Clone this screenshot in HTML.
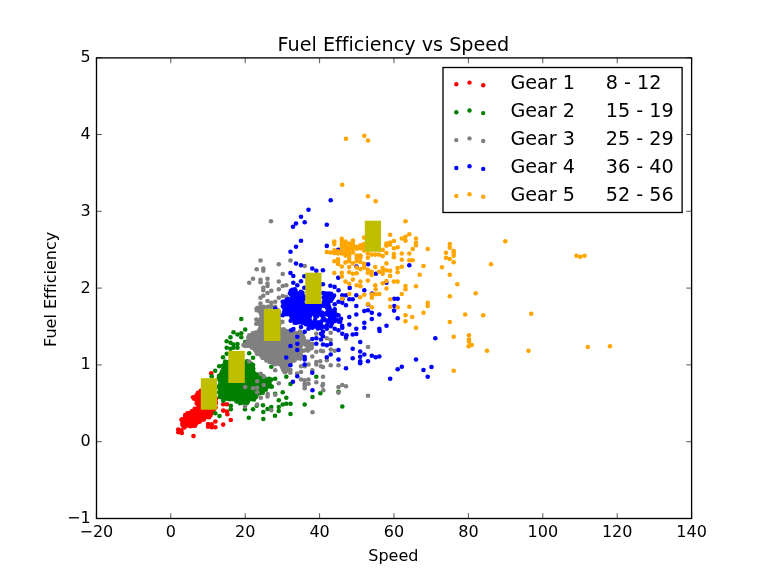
<!DOCTYPE html>
<html lang="en"><head><meta charset="utf-8"><title>Fuel Efficiency vs Speed</title>
<style>
html,body{margin:0;padding:0;background:#fff;}
body{width:768px;height:576px;overflow:hidden;}
svg{display:block;}
text{font-family:"DejaVu Sans", "Liberation Sans", sans-serif;fill:#000;font-variant-ligatures:none;}
.t16{font-size:16px;}
.t19{font-size:19.2px;}
</style></head><body>
<svg width="768" height="576" viewBox="0 0 768 576">
<rect x="0" y="0" width="768" height="576" fill="#fff"/>

<clipPath id="ax"><rect x="96.5" y="57.9" width="595.1" height="460.6"/></clipPath>
<g clip-path="url(#ax)">
<g fill="#ff0000">
<circle cx="178.2" cy="429.5" r="2.3"/><circle cx="181.3" cy="430.4" r="2.3"/><circle cx="178.4" cy="432.2" r="2.3"/><circle cx="181.8" cy="433.0" r="2.3"/><circle cx="193.5" cy="436.1" r="2.3"/><circle cx="181.5" cy="419.8" r="2.3"/><circle cx="185.2" cy="415.1" r="2.3"/><circle cx="188.8" cy="413.2" r="2.3"/><circle cx="215.4" cy="421.5" r="2.3"/><circle cx="208.1" cy="424.1" r="2.3"/><circle cx="208.1" cy="426.7" r="2.3"/><circle cx="211.8" cy="427.2" r="2.3"/><circle cx="215.4" cy="427.2" r="2.3"/><circle cx="211.8" cy="424.3" r="2.3"/><circle cx="223.2" cy="424.6" r="2.3"/><circle cx="230.8" cy="420.0" r="2.3"/><circle cx="223.2" cy="410.6" r="2.3"/><circle cx="226.9" cy="411.6" r="2.3"/><circle cx="227.4" cy="414.2" r="2.3"/><circle cx="223.2" cy="404.3" r="2.3"/><circle cx="226.9" cy="404.3" r="2.3"/><circle cx="211.2" cy="373.3" r="2.3"/><circle cx="200.7" cy="390.7" r="2.3"/><circle cx="198.0" cy="392.7" r="2.3"/><circle cx="199.9" cy="392.7" r="2.3"/><circle cx="202.5" cy="392.1" r="2.3"/><circle cx="205.1" cy="392.8" r="2.3"/><circle cx="196.6" cy="395.1" r="2.3"/><circle cx="198.7" cy="394.6" r="2.3"/><circle cx="200.7" cy="394.2" r="2.3"/><circle cx="203.3" cy="394.4" r="2.3"/><circle cx="206.2" cy="394.3" r="2.3"/><circle cx="193.0" cy="397.2" r="2.3"/><circle cx="195.5" cy="397.0" r="2.3"/><circle cx="197.8" cy="396.9" r="2.3"/><circle cx="199.6" cy="396.7" r="2.3"/><circle cx="202.2" cy="396.2" r="2.3"/><circle cx="204.2" cy="396.5" r="2.3"/><circle cx="206.9" cy="396.9" r="2.3"/><circle cx="194.2" cy="398.7" r="2.3"/><circle cx="196.0" cy="399.1" r="2.3"/><circle cx="198.5" cy="399.1" r="2.3"/><circle cx="201.6" cy="398.7" r="2.3"/><circle cx="203.4" cy="399.2" r="2.3"/><circle cx="206.1" cy="398.4" r="2.3"/><circle cx="207.9" cy="398.4" r="2.3"/><circle cx="211.1" cy="399.1" r="2.3"/><circle cx="212.7" cy="399.1" r="2.3"/><circle cx="216.0" cy="398.9" r="2.3"/><circle cx="197.2" cy="400.9" r="2.3"/><circle cx="199.7" cy="400.8" r="2.3"/><circle cx="201.9" cy="401.3" r="2.3"/><circle cx="204.6" cy="400.8" r="2.3"/><circle cx="207.2" cy="401.3" r="2.3"/><circle cx="209.4" cy="401.3" r="2.3"/><circle cx="211.9" cy="400.9" r="2.3"/><circle cx="214.3" cy="400.4" r="2.3"/><circle cx="196.6" cy="402.9" r="2.3"/><circle cx="198.8" cy="403.2" r="2.3"/><circle cx="201.5" cy="402.9" r="2.3"/><circle cx="203.6" cy="402.9" r="2.3"/><circle cx="205.9" cy="403.1" r="2.3"/><circle cx="208.3" cy="403.0" r="2.3"/><circle cx="210.7" cy="403.4" r="2.3"/><circle cx="213.3" cy="403.3" r="2.3"/><circle cx="215.9" cy="402.7" r="2.3"/><circle cx="197.7" cy="404.6" r="2.3"/><circle cx="200.3" cy="405.5" r="2.3"/><circle cx="202.0" cy="405.5" r="2.3"/><circle cx="204.6" cy="405.0" r="2.3"/><circle cx="207.6" cy="405.3" r="2.3"/><circle cx="209.2" cy="404.9" r="2.3"/><circle cx="211.9" cy="404.8" r="2.3"/><circle cx="214.0" cy="404.8" r="2.3"/><circle cx="198.6" cy="407.5" r="2.3"/><circle cx="201.4" cy="406.8" r="2.3"/><circle cx="203.1" cy="407.5" r="2.3"/><circle cx="206.0" cy="407.3" r="2.3"/><circle cx="207.9" cy="406.6" r="2.3"/><circle cx="210.9" cy="407.0" r="2.3"/><circle cx="212.7" cy="407.5" r="2.3"/><circle cx="215.6" cy="407.4" r="2.3"/><circle cx="194.7" cy="408.8" r="2.3"/><circle cx="197.1" cy="408.9" r="2.3"/><circle cx="199.7" cy="409.0" r="2.3"/><circle cx="202.6" cy="409.0" r="2.3"/><circle cx="204.7" cy="408.8" r="2.3"/><circle cx="206.9" cy="408.7" r="2.3"/><circle cx="209.3" cy="408.7" r="2.3"/><circle cx="212.1" cy="409.2" r="2.3"/><circle cx="214.0" cy="409.1" r="2.3"/><circle cx="191.7" cy="411.4" r="2.3"/><circle cx="193.8" cy="411.1" r="2.3"/><circle cx="195.9" cy="410.9" r="2.3"/><circle cx="198.3" cy="411.5" r="2.3"/><circle cx="200.9" cy="410.9" r="2.3"/><circle cx="203.1" cy="411.6" r="2.3"/><circle cx="206.3" cy="411.4" r="2.3"/><circle cx="208.1" cy="411.0" r="2.3"/><circle cx="210.5" cy="411.2" r="2.3"/><circle cx="212.8" cy="411.2" r="2.3"/><circle cx="187.4" cy="413.2" r="2.3"/><circle cx="190.3" cy="413.3" r="2.3"/><circle cx="192.4" cy="413.3" r="2.3"/><circle cx="194.6" cy="413.1" r="2.3"/><circle cx="197.1" cy="413.2" r="2.3"/><circle cx="199.4" cy="412.8" r="2.3"/><circle cx="202.1" cy="413.1" r="2.3"/><circle cx="204.8" cy="413.3" r="2.3"/><circle cx="207.4" cy="413.5" r="2.3"/><circle cx="209.7" cy="413.7" r="2.3"/><circle cx="211.8" cy="413.1" r="2.3"/><circle cx="186.3" cy="415.4" r="2.3"/><circle cx="189.1" cy="415.7" r="2.3"/><circle cx="191.8" cy="415.7" r="2.3"/><circle cx="194.0" cy="415.8" r="2.3"/><circle cx="196.5" cy="415.6" r="2.3"/><circle cx="198.4" cy="414.9" r="2.3"/><circle cx="200.7" cy="415.3" r="2.3"/><circle cx="203.1" cy="415.7" r="2.3"/><circle cx="206.0" cy="415.5" r="2.3"/><circle cx="208.4" cy="415.6" r="2.3"/><circle cx="210.7" cy="414.9" r="2.3"/><circle cx="185.1" cy="417.2" r="2.3"/><circle cx="188.1" cy="417.2" r="2.3"/><circle cx="190.5" cy="418.0" r="2.3"/><circle cx="192.7" cy="417.4" r="2.3"/><circle cx="195.1" cy="417.7" r="2.3"/><circle cx="197.8" cy="417.6" r="2.3"/><circle cx="200.0" cy="417.1" r="2.3"/><circle cx="201.9" cy="417.2" r="2.3"/><circle cx="204.9" cy="417.3" r="2.3"/><circle cx="207.2" cy="417.0" r="2.3"/><circle cx="209.1" cy="417.2" r="2.3"/><circle cx="182.3" cy="419.3" r="2.3"/><circle cx="184.8" cy="420.0" r="2.3"/><circle cx="186.2" cy="419.5" r="2.3"/><circle cx="189.4" cy="420.0" r="2.3"/><circle cx="191.4" cy="419.3" r="2.3"/><circle cx="193.6" cy="420.0" r="2.3"/><circle cx="196.0" cy="419.6" r="2.3"/><circle cx="198.3" cy="419.6" r="2.3"/><circle cx="201.6" cy="419.2" r="2.3"/><circle cx="203.8" cy="419.6" r="2.3"/><circle cx="182.9" cy="422.0" r="2.3"/><circle cx="185.0" cy="421.9" r="2.3"/><circle cx="188.2" cy="421.3" r="2.3"/><circle cx="190.7" cy="421.8" r="2.3"/><circle cx="193.1" cy="421.4" r="2.3"/><circle cx="195.0" cy="421.5" r="2.3"/><circle cx="198.0" cy="421.7" r="2.3"/><circle cx="199.8" cy="421.6" r="2.3"/><circle cx="182.3" cy="423.8" r="2.3"/><circle cx="184.5" cy="423.3" r="2.3"/><circle cx="186.9" cy="423.7" r="2.3"/><circle cx="189.4" cy="423.9" r="2.3"/><circle cx="191.3" cy="423.3" r="2.3"/><circle cx="194.3" cy="423.3" r="2.3"/><circle cx="196.3" cy="423.6" r="2.3"/><circle cx="182.8" cy="425.4" r="2.3"/><circle cx="185.3" cy="425.4" r="2.3"/><circle cx="187.6" cy="425.5" r="2.3"/><circle cx="190.4" cy="426.2" r="2.3"/><circle cx="192.9" cy="425.7" r="2.3"/><circle cx="195.0" cy="425.8" r="2.3"/><circle cx="184.4" cy="427.4" r="2.3"/>
</g>
<g fill="#008000">
<circle cx="241.3" cy="319.0" r="2.3"/><circle cx="245.2" cy="329.5" r="2.3"/><circle cx="233.5" cy="332.3" r="2.3"/><circle cx="237.5" cy="334.5" r="2.3"/><circle cx="241.3" cy="333.3" r="2.3"/><circle cx="230.5" cy="337.3" r="2.3"/><circle cx="241.3" cy="337.3" r="2.3"/><circle cx="226.7" cy="341.2" r="2.3"/><circle cx="230.5" cy="342.8" r="2.3"/><circle cx="233.5" cy="344.5" r="2.3"/><circle cx="237.5" cy="344.0" r="2.3"/><circle cx="245.2" cy="342.0" r="2.3"/><circle cx="226.7" cy="347.8" r="2.3"/><circle cx="230.5" cy="348.7" r="2.3"/><circle cx="233.5" cy="347.8" r="2.3"/><circle cx="237.5" cy="347.8" r="2.3"/><circle cx="226.7" cy="353.7" r="2.3"/><circle cx="223.0" cy="357.3" r="2.3"/><circle cx="219.2" cy="366.2" r="2.3"/><circle cx="215.2" cy="370.7" r="2.3"/><circle cx="211.7" cy="376.2" r="2.3"/><circle cx="249.2" cy="353.3" r="2.3"/><circle cx="253.0" cy="357.8" r="2.3"/><circle cx="253.0" cy="365.0" r="2.3"/><circle cx="253.0" cy="368.7" r="2.3"/><circle cx="249.2" cy="367.0" r="2.3"/><circle cx="249.2" cy="372.0" r="2.3"/><circle cx="253.0" cy="372.8" r="2.3"/><circle cx="257.2" cy="374.5" r="2.3"/><circle cx="260.8" cy="377.0" r="2.3"/><circle cx="271.3" cy="366.7" r="2.3"/><circle cx="271.3" cy="379.5" r="2.3"/><circle cx="275.2" cy="378.7" r="2.3"/><circle cx="290.5" cy="384.0" r="2.3"/><circle cx="286.3" cy="376.7" r="2.3"/><circle cx="282.7" cy="392.3" r="2.3"/><circle cx="275.2" cy="393.7" r="2.3"/><circle cx="286.3" cy="397.8" r="2.3"/><circle cx="278.8" cy="400.3" r="2.3"/><circle cx="290.5" cy="403.7" r="2.3"/><circle cx="286.3" cy="403.7" r="2.3"/><circle cx="282.7" cy="404.5" r="2.3"/><circle cx="263.0" cy="405.3" r="2.3"/><circle cx="271.3" cy="407.0" r="2.3"/><circle cx="278.8" cy="407.0" r="2.3"/><circle cx="304.7" cy="404.5" r="2.3"/><circle cx="312.5" cy="397.0" r="2.3"/><circle cx="320.3" cy="393.2" r="2.3"/><circle cx="278.7" cy="411.0" r="2.3"/><circle cx="275.0" cy="415.7" r="2.3"/><circle cx="290.5" cy="414.0" r="2.3"/><circle cx="267.5" cy="409.0" r="2.3"/><circle cx="263.3" cy="412.0" r="2.3"/><circle cx="263.3" cy="419.0" r="2.3"/><circle cx="248.8" cy="417.8" r="2.3"/><circle cx="230.8" cy="409.3" r="2.3"/><circle cx="245.0" cy="409.3" r="2.3"/><circle cx="253.0" cy="409.3" r="2.3"/><circle cx="215.3" cy="413.2" r="2.3"/><circle cx="219.5" cy="416.0" r="2.3"/><circle cx="230.8" cy="405.7" r="2.3"/><circle cx="256.7" cy="405.7" r="2.3"/><circle cx="223.3" cy="400.7" r="2.3"/><circle cx="268.3" cy="386.0" r="2.3"/><circle cx="271.7" cy="386.5" r="2.3"/><circle cx="265.8" cy="389.8" r="2.3"/><circle cx="316.3" cy="376.7" r="2.3"/><circle cx="342.3" cy="406.5" r="2.3"/><circle cx="338.5" cy="391.7" r="2.3"/><circle cx="225.2" cy="361.5" r="2.3"/><circle cx="228.4" cy="362.0" r="2.3"/><circle cx="230.6" cy="362.1" r="2.3"/><circle cx="233.2" cy="361.4" r="2.3"/><circle cx="234.9" cy="362.0" r="2.3"/><circle cx="240.2" cy="361.5" r="2.3"/><circle cx="242.3" cy="361.4" r="2.3"/><circle cx="247.0" cy="361.4" r="2.3"/><circle cx="224.9" cy="363.8" r="2.3"/><circle cx="226.6" cy="363.9" r="2.3"/><circle cx="229.0" cy="363.4" r="2.3"/><circle cx="231.1" cy="363.9" r="2.3"/><circle cx="234.4" cy="363.8" r="2.3"/><circle cx="236.8" cy="363.2" r="2.3"/><circle cx="238.5" cy="363.6" r="2.3"/><circle cx="241.7" cy="364.1" r="2.3"/><circle cx="243.5" cy="363.4" r="2.3"/><circle cx="245.9" cy="363.7" r="2.3"/><circle cx="248.8" cy="363.3" r="2.3"/><circle cx="251.1" cy="363.9" r="2.3"/><circle cx="222.9" cy="365.7" r="2.3"/><circle cx="225.7" cy="365.9" r="2.3"/><circle cx="228.2" cy="366.1" r="2.3"/><circle cx="230.6" cy="365.4" r="2.3"/><circle cx="233.1" cy="365.5" r="2.3"/><circle cx="235.3" cy="365.6" r="2.3"/><circle cx="237.8" cy="365.4" r="2.3"/><circle cx="239.7" cy="365.5" r="2.3"/><circle cx="242.1" cy="366.1" r="2.3"/><circle cx="244.9" cy="365.6" r="2.3"/><circle cx="247.1" cy="366.2" r="2.3"/><circle cx="249.6" cy="365.5" r="2.3"/><circle cx="252.3" cy="365.9" r="2.3"/><circle cx="224.0" cy="367.5" r="2.3"/><circle cx="226.6" cy="367.9" r="2.3"/><circle cx="229.4" cy="367.5" r="2.3"/><circle cx="231.1" cy="367.6" r="2.3"/><circle cx="234.2" cy="367.5" r="2.3"/><circle cx="236.2" cy="367.5" r="2.3"/><circle cx="239.1" cy="367.9" r="2.3"/><circle cx="240.8" cy="367.4" r="2.3"/><circle cx="243.5" cy="367.9" r="2.3"/><circle cx="246.1" cy="367.4" r="2.3"/><circle cx="248.1" cy="368.0" r="2.3"/><circle cx="250.7" cy="367.6" r="2.3"/><circle cx="253.0" cy="368.3" r="2.3"/><circle cx="222.8" cy="370.0" r="2.3"/><circle cx="225.5" cy="369.9" r="2.3"/><circle cx="227.6" cy="369.7" r="2.3"/><circle cx="230.4" cy="370.3" r="2.3"/><circle cx="232.4" cy="369.9" r="2.3"/><circle cx="235.5" cy="370.4" r="2.3"/><circle cx="237.3" cy="369.5" r="2.3"/><circle cx="240.4" cy="370.4" r="2.3"/><circle cx="242.4" cy="369.4" r="2.3"/><circle cx="245.2" cy="369.8" r="2.3"/><circle cx="247.6" cy="370.0" r="2.3"/><circle cx="249.9" cy="369.6" r="2.3"/><circle cx="252.3" cy="369.6" r="2.3"/><circle cx="221.9" cy="372.1" r="2.3"/><circle cx="224.3" cy="372.1" r="2.3"/><circle cx="226.7" cy="371.9" r="2.3"/><circle cx="228.7" cy="372.1" r="2.3"/><circle cx="231.6" cy="371.7" r="2.3"/><circle cx="234.3" cy="372.3" r="2.3"/><circle cx="236.4" cy="371.6" r="2.3"/><circle cx="238.8" cy="371.6" r="2.3"/><circle cx="240.8" cy="371.9" r="2.3"/><circle cx="243.2" cy="371.9" r="2.3"/><circle cx="246.0" cy="371.5" r="2.3"/><circle cx="248.5" cy="371.6" r="2.3"/><circle cx="251.0" cy="372.2" r="2.3"/><circle cx="253.2" cy="371.5" r="2.3"/><circle cx="221.2" cy="373.8" r="2.3"/><circle cx="223.5" cy="373.7" r="2.3"/><circle cx="225.6" cy="374.5" r="2.3"/><circle cx="227.7" cy="373.8" r="2.3"/><circle cx="230.4" cy="373.9" r="2.3"/><circle cx="232.3" cy="373.7" r="2.3"/><circle cx="234.9" cy="374.5" r="2.3"/><circle cx="237.8" cy="374.4" r="2.3"/><circle cx="239.7" cy="374.3" r="2.3"/><circle cx="242.0" cy="374.1" r="2.3"/><circle cx="244.9" cy="373.9" r="2.3"/><circle cx="247.6" cy="374.1" r="2.3"/><circle cx="249.7" cy="374.4" r="2.3"/><circle cx="251.6" cy="374.5" r="2.3"/><circle cx="254.5" cy="373.9" r="2.3"/><circle cx="219.1" cy="375.8" r="2.3"/><circle cx="222.1" cy="376.1" r="2.3"/><circle cx="224.4" cy="376.5" r="2.3"/><circle cx="226.4" cy="375.9" r="2.3"/><circle cx="229.4" cy="375.6" r="2.3"/><circle cx="231.1" cy="376.0" r="2.3"/><circle cx="233.6" cy="376.0" r="2.3"/><circle cx="236.1" cy="376.2" r="2.3"/><circle cx="238.9" cy="375.8" r="2.3"/><circle cx="241.3" cy="376.1" r="2.3"/><circle cx="243.2" cy="376.6" r="2.3"/><circle cx="245.7" cy="375.8" r="2.3"/><circle cx="248.0" cy="376.3" r="2.3"/><circle cx="251.2" cy="376.4" r="2.3"/><circle cx="253.1" cy="375.9" r="2.3"/><circle cx="255.1" cy="376.3" r="2.3"/><circle cx="258.1" cy="376.0" r="2.3"/><circle cx="260.5" cy="376.1" r="2.3"/><circle cx="263.2" cy="376.4" r="2.3"/><circle cx="218.8" cy="377.8" r="2.3"/><circle cx="220.5" cy="378.3" r="2.3"/><circle cx="223.2" cy="378.3" r="2.3"/><circle cx="225.9" cy="377.9" r="2.3"/><circle cx="227.8" cy="378.0" r="2.3"/><circle cx="229.9" cy="378.6" r="2.3"/><circle cx="233.1" cy="378.4" r="2.3"/><circle cx="234.7" cy="378.6" r="2.3"/><circle cx="237.8" cy="378.2" r="2.3"/><circle cx="240.2" cy="378.2" r="2.3"/><circle cx="242.1" cy="377.8" r="2.3"/><circle cx="244.5" cy="377.7" r="2.3"/><circle cx="247.0" cy="378.5" r="2.3"/><circle cx="249.8" cy="378.6" r="2.3"/><circle cx="252.2" cy="378.0" r="2.3"/><circle cx="254.5" cy="378.1" r="2.3"/><circle cx="257.1" cy="378.2" r="2.3"/><circle cx="259.0" cy="378.3" r="2.3"/><circle cx="262.1" cy="377.9" r="2.3"/><circle cx="264.4" cy="377.7" r="2.3"/><circle cx="269.0" cy="378.7" r="2.3"/><circle cx="219.7" cy="380.5" r="2.3"/><circle cx="222.2" cy="380.8" r="2.3"/><circle cx="224.4" cy="380.6" r="2.3"/><circle cx="227.0" cy="380.6" r="2.3"/><circle cx="229.1" cy="380.5" r="2.3"/><circle cx="231.7" cy="380.1" r="2.3"/><circle cx="233.7" cy="380.4" r="2.3"/><circle cx="236.0" cy="380.7" r="2.3"/><circle cx="238.4" cy="379.8" r="2.3"/><circle cx="240.8" cy="380.7" r="2.3"/><circle cx="243.4" cy="379.9" r="2.3"/><circle cx="245.5" cy="379.8" r="2.3"/><circle cx="248.6" cy="380.4" r="2.3"/><circle cx="251.0" cy="380.5" r="2.3"/><circle cx="252.8" cy="380.4" r="2.3"/><circle cx="255.5" cy="380.6" r="2.3"/><circle cx="258.3" cy="380.7" r="2.3"/><circle cx="260.0" cy="380.7" r="2.3"/><circle cx="263.2" cy="380.7" r="2.3"/><circle cx="264.8" cy="380.0" r="2.3"/><circle cx="267.2" cy="379.8" r="2.3"/><circle cx="270.3" cy="380.6" r="2.3"/><circle cx="221.1" cy="382.1" r="2.3"/><circle cx="223.0" cy="382.3" r="2.3"/><circle cx="225.1" cy="382.1" r="2.3"/><circle cx="227.8" cy="382.6" r="2.3"/><circle cx="230.3" cy="382.2" r="2.3"/><circle cx="233.3" cy="382.4" r="2.3"/><circle cx="235.6" cy="382.5" r="2.3"/><circle cx="237.1" cy="382.3" r="2.3"/><circle cx="239.9" cy="382.6" r="2.3"/><circle cx="242.2" cy="382.6" r="2.3"/><circle cx="244.8" cy="382.1" r="2.3"/><circle cx="247.6" cy="382.0" r="2.3"/><circle cx="249.9" cy="382.0" r="2.3"/><circle cx="251.5" cy="382.1" r="2.3"/><circle cx="254.7" cy="382.8" r="2.3"/><circle cx="256.3" cy="382.4" r="2.3"/><circle cx="259.2" cy="382.7" r="2.3"/><circle cx="261.3" cy="382.4" r="2.3"/><circle cx="263.8" cy="382.7" r="2.3"/><circle cx="266.2" cy="382.8" r="2.3"/><circle cx="268.6" cy="382.1" r="2.3"/><circle cx="219.8" cy="384.7" r="2.3"/><circle cx="222.1" cy="384.3" r="2.3"/><circle cx="224.3" cy="384.3" r="2.3"/><circle cx="227.2" cy="384.0" r="2.3"/><circle cx="229.6" cy="384.0" r="2.3"/><circle cx="231.3" cy="384.2" r="2.3"/><circle cx="234.4" cy="384.4" r="2.3"/><circle cx="236.3" cy="384.8" r="2.3"/><circle cx="238.5" cy="384.4" r="2.3"/><circle cx="241.2" cy="384.7" r="2.3"/><circle cx="243.9" cy="384.6" r="2.3"/><circle cx="245.8" cy="384.3" r="2.3"/><circle cx="248.1" cy="384.8" r="2.3"/><circle cx="251.0" cy="384.7" r="2.3"/><circle cx="252.9" cy="384.4" r="2.3"/><circle cx="255.9" cy="384.5" r="2.3"/><circle cx="257.6" cy="384.4" r="2.3"/><circle cx="260.8" cy="384.2" r="2.3"/><circle cx="262.5" cy="384.2" r="2.3"/><circle cx="265.4" cy="384.8" r="2.3"/><circle cx="267.3" cy="384.1" r="2.3"/><circle cx="269.7" cy="384.3" r="2.3"/><circle cx="218.9" cy="386.7" r="2.3"/><circle cx="220.4" cy="387.0" r="2.3"/><circle cx="222.8" cy="386.4" r="2.3"/><circle cx="226.1" cy="386.8" r="2.3"/><circle cx="228.2" cy="386.5" r="2.3"/><circle cx="230.1" cy="386.7" r="2.3"/><circle cx="232.4" cy="386.2" r="2.3"/><circle cx="235.1" cy="386.1" r="2.3"/><circle cx="237.5" cy="386.8" r="2.3"/><circle cx="240.2" cy="386.5" r="2.3"/><circle cx="242.5" cy="386.5" r="2.3"/><circle cx="244.4" cy="386.6" r="2.3"/><circle cx="247.1" cy="386.8" r="2.3"/><circle cx="250.0" cy="386.4" r="2.3"/><circle cx="252.1" cy="386.8" r="2.3"/><circle cx="254.3" cy="386.2" r="2.3"/><circle cx="257.0" cy="386.9" r="2.3"/><circle cx="259.5" cy="386.7" r="2.3"/><circle cx="262.0" cy="386.7" r="2.3"/><circle cx="264.1" cy="386.5" r="2.3"/><circle cx="266.2" cy="386.6" r="2.3"/><circle cx="268.4" cy="386.4" r="2.3"/><circle cx="271.5" cy="386.7" r="2.3"/><circle cx="219.7" cy="388.5" r="2.3"/><circle cx="222.2" cy="389.0" r="2.3"/><circle cx="224.1" cy="388.8" r="2.3"/><circle cx="227.1" cy="388.5" r="2.3"/><circle cx="229.2" cy="389.1" r="2.3"/><circle cx="231.1" cy="388.6" r="2.3"/><circle cx="233.7" cy="388.9" r="2.3"/><circle cx="236.8" cy="388.6" r="2.3"/><circle cx="238.4" cy="388.7" r="2.3"/><circle cx="241.2" cy="388.8" r="2.3"/><circle cx="243.6" cy="388.7" r="2.3"/><circle cx="246.3" cy="388.6" r="2.3"/><circle cx="248.3" cy="389.0" r="2.3"/><circle cx="250.5" cy="388.8" r="2.3"/><circle cx="253.1" cy="388.9" r="2.3"/><circle cx="255.2" cy="389.1" r="2.3"/><circle cx="257.9" cy="388.2" r="2.3"/><circle cx="260.2" cy="388.5" r="2.3"/><circle cx="262.3" cy="388.5" r="2.3"/><circle cx="220.4" cy="391.0" r="2.3"/><circle cx="223.5" cy="390.8" r="2.3"/><circle cx="225.6" cy="390.7" r="2.3"/><circle cx="227.7" cy="391.1" r="2.3"/><circle cx="230.3" cy="390.8" r="2.3"/><circle cx="233.1" cy="391.0" r="2.3"/><circle cx="235.2" cy="390.5" r="2.3"/><circle cx="237.6" cy="390.3" r="2.3"/><circle cx="240.3" cy="390.5" r="2.3"/><circle cx="242.8" cy="390.4" r="2.3"/><circle cx="244.7" cy="390.4" r="2.3"/><circle cx="247.1" cy="390.4" r="2.3"/><circle cx="249.1" cy="390.9" r="2.3"/><circle cx="251.8" cy="390.4" r="2.3"/><circle cx="254.2" cy="390.7" r="2.3"/><circle cx="256.7" cy="390.8" r="2.3"/><circle cx="259.4" cy="390.5" r="2.3"/><circle cx="262.0" cy="391.0" r="2.3"/><circle cx="219.2" cy="392.4" r="2.3"/><circle cx="221.7" cy="393.0" r="2.3"/><circle cx="224.2" cy="392.4" r="2.3"/><circle cx="227.2" cy="393.0" r="2.3"/><circle cx="228.9" cy="393.1" r="2.3"/><circle cx="231.7" cy="393.0" r="2.3"/><circle cx="234.2" cy="393.1" r="2.3"/><circle cx="236.7" cy="393.1" r="2.3"/><circle cx="238.5" cy="392.9" r="2.3"/><circle cx="241.2" cy="393.0" r="2.3"/><circle cx="243.5" cy="393.1" r="2.3"/><circle cx="246.1" cy="392.5" r="2.3"/><circle cx="248.1" cy="392.4" r="2.3"/><circle cx="250.8" cy="392.3" r="2.3"/><circle cx="253.2" cy="392.4" r="2.3"/><circle cx="255.6" cy="392.8" r="2.3"/><circle cx="258.0" cy="393.1" r="2.3"/><circle cx="259.9" cy="393.1" r="2.3"/><circle cx="262.8" cy="392.8" r="2.3"/><circle cx="220.6" cy="395.3" r="2.3"/><circle cx="223.2" cy="394.8" r="2.3"/><circle cx="226.0" cy="394.4" r="2.3"/><circle cx="228.2" cy="395.0" r="2.3"/><circle cx="230.2" cy="395.2" r="2.3"/><circle cx="232.7" cy="394.8" r="2.3"/><circle cx="235.2" cy="395.1" r="2.3"/><circle cx="237.3" cy="394.8" r="2.3"/><circle cx="239.9" cy="394.9" r="2.3"/><circle cx="242.7" cy="394.6" r="2.3"/><circle cx="245.1" cy="394.7" r="2.3"/><circle cx="247.2" cy="394.6" r="2.3"/><circle cx="249.6" cy="395.3" r="2.3"/><circle cx="252.2" cy="395.1" r="2.3"/><circle cx="254.2" cy="394.6" r="2.3"/><circle cx="256.6" cy="394.9" r="2.3"/><circle cx="219.7" cy="397.0" r="2.3"/><circle cx="222.2" cy="397.0" r="2.3"/><circle cx="224.6" cy="396.6" r="2.3"/><circle cx="227.0" cy="396.9" r="2.3"/><circle cx="229.5" cy="396.5" r="2.3"/><circle cx="231.3" cy="396.4" r="2.3"/><circle cx="234.3" cy="397.3" r="2.3"/><circle cx="236.6" cy="396.8" r="2.3"/><circle cx="239.1" cy="397.2" r="2.3"/><circle cx="241.3" cy="396.7" r="2.3"/><circle cx="243.4" cy="396.8" r="2.3"/><circle cx="245.8" cy="396.8" r="2.3"/><circle cx="248.5" cy="397.3" r="2.3"/><circle cx="250.4" cy="397.0" r="2.3"/><circle cx="252.7" cy="396.5" r="2.3"/><circle cx="255.9" cy="397.0" r="2.3"/><circle cx="222.8" cy="398.5" r="2.3"/><circle cx="225.8" cy="398.7" r="2.3"/><circle cx="228.2" cy="398.7" r="2.3"/><circle cx="230.0" cy="399.3" r="2.3"/><circle cx="233.0" cy="399.3" r="2.3"/><circle cx="235.4" cy="398.6" r="2.3"/><circle cx="237.7" cy="399.2" r="2.3"/><circle cx="240.0" cy="399.4" r="2.3"/><circle cx="242.2" cy="399.5" r="2.3"/><circle cx="245.0" cy="398.5" r="2.3"/><circle cx="246.7" cy="399.1" r="2.3"/><circle cx="249.9" cy="398.6" r="2.3"/><circle cx="251.8" cy="399.2" r="2.3"/><circle cx="254.1" cy="399.4" r="2.3"/><circle cx="236.5" cy="401.5" r="2.3"/><circle cx="239.1" cy="400.9" r="2.3"/><circle cx="240.7" cy="400.8" r="2.3"/><circle cx="243.5" cy="401.2" r="2.3"/><circle cx="246.3" cy="401.5" r="2.3"/><circle cx="247.9" cy="401.4" r="2.3"/><circle cx="239.9" cy="403.2" r="2.3"/><circle cx="242.0" cy="402.7" r="2.3"/><circle cx="245.3" cy="403.0" r="2.3"/><circle cx="246.8" cy="403.3" r="2.3"/>
</g>
<g fill="#808080">
<circle cx="249.2" cy="361.5" r="2.3"/><circle cx="245.2" cy="387.0" r="2.3"/><circle cx="253.0" cy="388.3" r="2.3"/><circle cx="257.2" cy="387.8" r="2.3"/><circle cx="257.2" cy="381.2" r="2.3"/><circle cx="263.8" cy="385.0" r="2.3"/><circle cx="257.2" cy="392.3" r="2.3"/><circle cx="267.7" cy="394.0" r="2.3"/><circle cx="275.2" cy="394.8" r="2.3"/><circle cx="260.8" cy="397.8" r="2.3"/><circle cx="257.2" cy="404.5" r="2.3"/><circle cx="260.8" cy="373.7" r="2.3"/><circle cx="263.8" cy="376.7" r="2.3"/><circle cx="278.8" cy="383.3" r="2.3"/><circle cx="275.2" cy="370.3" r="2.3"/><circle cx="256.3" cy="319.5" r="2.3"/><circle cx="256.3" cy="323.7" r="2.3"/><circle cx="267.5" cy="396.5" r="2.3"/><circle cx="245.0" cy="406.5" r="2.3"/><circle cx="271.3" cy="410.3" r="2.3"/><circle cx="312.5" cy="412.3" r="2.3"/><circle cx="304.7" cy="385.7" r="2.3"/><circle cx="304.7" cy="388.2" r="2.3"/><circle cx="322.5" cy="385.7" r="2.3"/><circle cx="323.3" cy="390.3" r="2.3"/><circle cx="271.0" cy="221.3" r="2.3"/><circle cx="260.5" cy="260.5" r="2.3"/><circle cx="290.5" cy="260.5" r="2.3"/><circle cx="278.8" cy="264.3" r="2.3"/><circle cx="256.7" cy="269.3" r="2.3"/><circle cx="263.3" cy="268.5" r="2.3"/><circle cx="263.3" cy="270.7" r="2.3"/><circle cx="282.7" cy="274.0" r="2.3"/><circle cx="253.0" cy="278.8" r="2.3"/><circle cx="249.2" cy="282.7" r="2.3"/><circle cx="260.5" cy="279.7" r="2.3"/><circle cx="260.5" cy="282.3" r="2.3"/><circle cx="267.5" cy="278.8" r="2.3"/><circle cx="267.5" cy="283.5" r="2.3"/><circle cx="267.5" cy="286.0" r="2.3"/><circle cx="278.8" cy="281.5" r="2.3"/><circle cx="282.7" cy="286.0" r="2.3"/><circle cx="286.3" cy="285.2" r="2.3"/><circle cx="263.3" cy="287.7" r="2.3"/><circle cx="263.3" cy="290.2" r="2.3"/><circle cx="271.3" cy="290.7" r="2.3"/><circle cx="278.8" cy="289.3" r="2.3"/><circle cx="267.5" cy="293.0" r="2.3"/><circle cx="263.3" cy="295.7" r="2.3"/><circle cx="260.5" cy="297.7" r="2.3"/><circle cx="278.8" cy="297.7" r="2.3"/><circle cx="282.7" cy="296.0" r="2.3"/><circle cx="286.3" cy="296.8" r="2.3"/><circle cx="267.5" cy="301.0" r="2.3"/><circle cx="271.3" cy="302.7" r="2.3"/><circle cx="275.2" cy="301.8" r="2.3"/><circle cx="260.5" cy="303.5" r="2.3"/><circle cx="256.7" cy="308.5" r="2.3"/><circle cx="260.5" cy="307.3" r="2.3"/><circle cx="263.8" cy="306.8" r="2.3"/><circle cx="271.3" cy="306.0" r="2.3"/><circle cx="275.2" cy="306.8" r="2.3"/><circle cx="268.0" cy="306.8" r="2.3"/><circle cx="304.7" cy="266.0" r="2.3"/><circle cx="316.3" cy="333.7" r="2.3"/><circle cx="330.7" cy="332.8" r="2.3"/><circle cx="326.8" cy="338.3" r="2.3"/><circle cx="330.7" cy="340.0" r="2.3"/><circle cx="346.0" cy="338.7" r="2.3"/><circle cx="316.3" cy="351.7" r="2.3"/><circle cx="321.0" cy="350.7" r="2.3"/><circle cx="323.0" cy="351.2" r="2.3"/><circle cx="330.7" cy="349.5" r="2.3"/><circle cx="334.7" cy="350.7" r="2.3"/><circle cx="312.3" cy="356.5" r="2.3"/><circle cx="326.8" cy="360.3" r="2.3"/><circle cx="316.3" cy="362.0" r="2.3"/><circle cx="320.2" cy="361.2" r="2.3"/><circle cx="316.3" cy="364.5" r="2.3"/><circle cx="321.0" cy="366.2" r="2.3"/><circle cx="323.0" cy="367.0" r="2.3"/><circle cx="330.7" cy="365.3" r="2.3"/><circle cx="338.5" cy="365.3" r="2.3"/><circle cx="308.5" cy="364.5" r="2.3"/><circle cx="301.0" cy="366.2" r="2.3"/><circle cx="304.7" cy="366.2" r="2.3"/><circle cx="301.0" cy="372.0" r="2.3"/><circle cx="312.3" cy="370.3" r="2.3"/><circle cx="323.0" cy="376.7" r="2.3"/><circle cx="301.0" cy="379.5" r="2.3"/><circle cx="304.7" cy="380.3" r="2.3"/><circle cx="308.5" cy="379.5" r="2.3"/><circle cx="304.7" cy="383.7" r="2.3"/><circle cx="308.5" cy="383.7" r="2.3"/><circle cx="316.3" cy="382.3" r="2.3"/><circle cx="323.0" cy="384.0" r="2.3"/><circle cx="338.5" cy="387.0" r="2.3"/><circle cx="342.3" cy="385.0" r="2.3"/><circle cx="346.0" cy="386.2" r="2.3"/><circle cx="338.5" cy="392.8" r="2.3"/><circle cx="368.0" cy="347.0" r="2.3"/><circle cx="368.0" cy="395.7" r="2.3"/><circle cx="290.3" cy="372.7" r="2.3"/><circle cx="287.0" cy="370.2" r="2.3"/><circle cx="282.4" cy="321.9" r="2.3"/><circle cx="308.6" cy="341.6" r="2.3"/><circle cx="312.4" cy="344.1" r="2.3"/><circle cx="311.8" cy="347.5" r="2.3"/><circle cx="308.0" cy="350.4" r="2.3"/><circle cx="303.6" cy="338.5" r="2.3"/><circle cx="305.5" cy="344.8" r="2.3"/><circle cx="290.5" cy="370.0" r="2.3"/><circle cx="297.0" cy="373.5" r="2.3"/><circle cx="299.9" cy="331.6" r="2.3"/><circle cx="298.1" cy="333.6" r="2.3"/><circle cx="300.6" cy="334.1" r="2.3"/><circle cx="302.8" cy="334.1" r="2.3"/><circle cx="300.1" cy="336.2" r="2.3"/><circle cx="301.6" cy="335.5" r="2.3"/><circle cx="298.1" cy="337.7" r="2.3"/><circle cx="301.2" cy="337.5" r="2.3"/><circle cx="303.3" cy="337.5" r="2.3"/><circle cx="299.7" cy="340.1" r="2.3"/><circle cx="302.3" cy="340.0" r="2.3"/><circle cx="304.1" cy="339.5" r="2.3"/><circle cx="298.8" cy="341.9" r="2.3"/><circle cx="301.2" cy="341.7" r="2.3"/><circle cx="302.9" cy="342.3" r="2.3"/><circle cx="305.5" cy="341.6" r="2.3"/><circle cx="307.9" cy="342.1" r="2.3"/><circle cx="299.9" cy="344.4" r="2.3"/><circle cx="301.8" cy="344.3" r="2.3"/><circle cx="306.4" cy="344.4" r="2.3"/><circle cx="309.7" cy="344.0" r="2.3"/><circle cx="298.1" cy="345.7" r="2.3"/><circle cx="300.6" cy="346.4" r="2.3"/><circle cx="307.5" cy="346.2" r="2.3"/><circle cx="310.5" cy="346.2" r="2.3"/><circle cx="297.6" cy="348.4" r="2.3"/><circle cx="299.1" cy="347.8" r="2.3"/><circle cx="309.3" cy="348.6" r="2.3"/><circle cx="311.2" cy="348.3" r="2.3"/><circle cx="298.3" cy="350.2" r="2.3"/><circle cx="301.1" cy="350.3" r="2.3"/><circle cx="303.1" cy="350.7" r="2.3"/><circle cx="305.9" cy="350.1" r="2.3"/><circle cx="307.7" cy="350.1" r="2.3"/><circle cx="297.5" cy="352.7" r="2.3"/><circle cx="299.2" cy="352.4" r="2.3"/><circle cx="298.8" cy="354.6" r="2.3"/><circle cx="301.1" cy="354.8" r="2.3"/><circle cx="297.2" cy="356.5" r="2.3"/><circle cx="300.1" cy="356.3" r="2.3"/><circle cx="298.2" cy="358.3" r="2.3"/><circle cx="300.4" cy="358.6" r="2.3"/><circle cx="258.0" cy="307.9" r="2.3"/><circle cx="260.3" cy="308.4" r="2.3"/><circle cx="256.8" cy="310.3" r="2.3"/><circle cx="259.1" cy="310.6" r="2.3"/><circle cx="261.6" cy="310.1" r="2.3"/><circle cx="263.3" cy="309.9" r="2.3"/><circle cx="266.0" cy="310.2" r="2.3"/><circle cx="270.9" cy="310.3" r="2.3"/><circle cx="273.1" cy="310.7" r="2.3"/><circle cx="277.9" cy="310.4" r="2.3"/><circle cx="260.3" cy="312.1" r="2.3"/><circle cx="262.6" cy="312.1" r="2.3"/><circle cx="264.5" cy="312.0" r="2.3"/><circle cx="266.8" cy="312.6" r="2.3"/><circle cx="269.7" cy="312.1" r="2.3"/><circle cx="271.9" cy="312.1" r="2.3"/><circle cx="274.0" cy="312.6" r="2.3"/><circle cx="276.9" cy="312.7" r="2.3"/><circle cx="279.1" cy="312.4" r="2.3"/><circle cx="261.1" cy="313.9" r="2.3"/><circle cx="263.2" cy="314.6" r="2.3"/><circle cx="265.9" cy="314.1" r="2.3"/><circle cx="268.1" cy="314.1" r="2.3"/><circle cx="270.5" cy="313.8" r="2.3"/><circle cx="273.4" cy="314.2" r="2.3"/><circle cx="275.3" cy="314.5" r="2.3"/><circle cx="277.6" cy="314.1" r="2.3"/><circle cx="262.3" cy="316.5" r="2.3"/><circle cx="264.9" cy="316.2" r="2.3"/><circle cx="267.1" cy="316.0" r="2.3"/><circle cx="269.3" cy="316.7" r="2.3"/><circle cx="271.8" cy="316.6" r="2.3"/><circle cx="274.0" cy="316.5" r="2.3"/><circle cx="276.7" cy="316.4" r="2.3"/><circle cx="279.0" cy="316.0" r="2.3"/><circle cx="260.9" cy="318.2" r="2.3"/><circle cx="263.4" cy="318.4" r="2.3"/><circle cx="265.5" cy="318.3" r="2.3"/><circle cx="268.5" cy="318.2" r="2.3"/><circle cx="271.1" cy="318.5" r="2.3"/><circle cx="273.4" cy="318.2" r="2.3"/><circle cx="275.5" cy="318.7" r="2.3"/><circle cx="277.8" cy="318.0" r="2.3"/><circle cx="257.7" cy="320.5" r="2.3"/><circle cx="259.6" cy="320.7" r="2.3"/><circle cx="262.3" cy="320.6" r="2.3"/><circle cx="265.2" cy="320.2" r="2.3"/><circle cx="267.5" cy="320.1" r="2.3"/><circle cx="269.8" cy="320.9" r="2.3"/><circle cx="271.8" cy="320.6" r="2.3"/><circle cx="274.9" cy="320.7" r="2.3"/><circle cx="276.8" cy="320.3" r="2.3"/><circle cx="278.8" cy="320.4" r="2.3"/><circle cx="258.7" cy="322.3" r="2.3"/><circle cx="260.8" cy="322.4" r="2.3"/><circle cx="263.3" cy="322.8" r="2.3"/><circle cx="265.9" cy="322.2" r="2.3"/><circle cx="268.2" cy="322.6" r="2.3"/><circle cx="270.7" cy="322.3" r="2.3"/><circle cx="272.8" cy="322.1" r="2.3"/><circle cx="276.1" cy="322.9" r="2.3"/><circle cx="277.6" cy="322.8" r="2.3"/><circle cx="259.8" cy="324.4" r="2.3"/><circle cx="262.7" cy="324.5" r="2.3"/><circle cx="264.7" cy="324.8" r="2.3"/><circle cx="267.1" cy="325.0" r="2.3"/><circle cx="269.3" cy="324.2" r="2.3"/><circle cx="272.1" cy="324.8" r="2.3"/><circle cx="274.7" cy="324.9" r="2.3"/><circle cx="277.2" cy="325.2" r="2.3"/><circle cx="279.2" cy="324.7" r="2.3"/><circle cx="261.3" cy="326.6" r="2.3"/><circle cx="263.3" cy="326.4" r="2.3"/><circle cx="265.8" cy="326.7" r="2.3"/><circle cx="268.9" cy="327.2" r="2.3"/><circle cx="271.2" cy="327.3" r="2.3"/><circle cx="273.7" cy="326.9" r="2.3"/><circle cx="275.9" cy="326.3" r="2.3"/><circle cx="278.2" cy="326.9" r="2.3"/><circle cx="260.0" cy="328.6" r="2.3"/><circle cx="262.4" cy="328.9" r="2.3"/><circle cx="264.5" cy="328.9" r="2.3"/><circle cx="266.8" cy="328.9" r="2.3"/><circle cx="269.7" cy="328.4" r="2.3"/><circle cx="271.9" cy="328.4" r="2.3"/><circle cx="274.3" cy="329.2" r="2.3"/><circle cx="276.9" cy="329.1" r="2.3"/><circle cx="279.5" cy="328.5" r="2.3"/><circle cx="283.6" cy="329.2" r="2.3"/><circle cx="258.6" cy="331.2" r="2.3"/><circle cx="261.4" cy="331.3" r="2.3"/><circle cx="263.2" cy="330.8" r="2.3"/><circle cx="266.2" cy="331.4" r="2.3"/><circle cx="268.6" cy="330.5" r="2.3"/><circle cx="270.9" cy="330.5" r="2.3"/><circle cx="273.2" cy="331.2" r="2.3"/><circle cx="275.2" cy="331.4" r="2.3"/><circle cx="278.2" cy="330.7" r="2.3"/><circle cx="280.1" cy="330.9" r="2.3"/><circle cx="283.1" cy="331.0" r="2.3"/><circle cx="284.8" cy="330.5" r="2.3"/><circle cx="287.2" cy="331.2" r="2.3"/><circle cx="289.7" cy="331.0" r="2.3"/><circle cx="292.2" cy="331.1" r="2.3"/><circle cx="252.8" cy="333.4" r="2.3"/><circle cx="255.5" cy="332.6" r="2.3"/><circle cx="257.3" cy="333.3" r="2.3"/><circle cx="260.2" cy="332.9" r="2.3"/><circle cx="262.4" cy="332.7" r="2.3"/><circle cx="265.1" cy="332.9" r="2.3"/><circle cx="267.6" cy="333.1" r="2.3"/><circle cx="269.2" cy="332.8" r="2.3"/><circle cx="271.7" cy="333.4" r="2.3"/><circle cx="274.5" cy="332.6" r="2.3"/><circle cx="276.5" cy="332.9" r="2.3"/><circle cx="279.2" cy="333.1" r="2.3"/><circle cx="281.5" cy="332.9" r="2.3"/><circle cx="283.5" cy="333.1" r="2.3"/><circle cx="286.2" cy="332.5" r="2.3"/><circle cx="288.8" cy="333.5" r="2.3"/><circle cx="290.7" cy="332.7" r="2.3"/><circle cx="293.8" cy="332.8" r="2.3"/><circle cx="295.8" cy="333.0" r="2.3"/><circle cx="249.3" cy="335.4" r="2.3"/><circle cx="252.0" cy="335.4" r="2.3"/><circle cx="254.1" cy="335.2" r="2.3"/><circle cx="256.3" cy="334.9" r="2.3"/><circle cx="259.1" cy="335.5" r="2.3"/><circle cx="261.6" cy="335.3" r="2.3"/><circle cx="263.4" cy="335.4" r="2.3"/><circle cx="266.2" cy="335.1" r="2.3"/><circle cx="268.5" cy="334.9" r="2.3"/><circle cx="270.9" cy="335.0" r="2.3"/><circle cx="272.8" cy="334.9" r="2.3"/><circle cx="275.4" cy="335.6" r="2.3"/><circle cx="278.0" cy="335.0" r="2.3"/><circle cx="280.1" cy="334.8" r="2.3"/><circle cx="282.6" cy="334.7" r="2.3"/><circle cx="284.7" cy="335.5" r="2.3"/><circle cx="287.6" cy="335.0" r="2.3"/><circle cx="290.1" cy="334.9" r="2.3"/><circle cx="292.1" cy="334.7" r="2.3"/><circle cx="294.6" cy="334.9" r="2.3"/><circle cx="248.4" cy="337.3" r="2.3"/><circle cx="250.0" cy="336.9" r="2.3"/><circle cx="252.9" cy="337.7" r="2.3"/><circle cx="255.1" cy="337.5" r="2.3"/><circle cx="257.5" cy="337.5" r="2.3"/><circle cx="259.6" cy="337.2" r="2.3"/><circle cx="262.8" cy="337.0" r="2.3"/><circle cx="264.6" cy="336.7" r="2.3"/><circle cx="266.9" cy="336.9" r="2.3"/><circle cx="269.8" cy="336.9" r="2.3"/><circle cx="271.9" cy="336.9" r="2.3"/><circle cx="274.5" cy="337.5" r="2.3"/><circle cx="276.9" cy="336.9" r="2.3"/><circle cx="279.4" cy="337.6" r="2.3"/><circle cx="281.7" cy="336.8" r="2.3"/><circle cx="284.3" cy="337.6" r="2.3"/><circle cx="286.2" cy="336.8" r="2.3"/><circle cx="288.5" cy="337.2" r="2.3"/><circle cx="291.6" cy="337.3" r="2.3"/><circle cx="294.0" cy="336.9" r="2.3"/><circle cx="248.7" cy="339.4" r="2.3"/><circle cx="251.4" cy="339.2" r="2.3"/><circle cx="254.1" cy="339.0" r="2.3"/><circle cx="256.4" cy="338.8" r="2.3"/><circle cx="259.2" cy="339.3" r="2.3"/><circle cx="261.7" cy="338.8" r="2.3"/><circle cx="263.7" cy="339.5" r="2.3"/><circle cx="265.8" cy="338.8" r="2.3"/><circle cx="268.1" cy="338.9" r="2.3"/><circle cx="271.1" cy="338.8" r="2.3"/><circle cx="273.5" cy="339.2" r="2.3"/><circle cx="275.6" cy="339.3" r="2.3"/><circle cx="278.1" cy="339.4" r="2.3"/><circle cx="280.5" cy="339.1" r="2.3"/><circle cx="283.0" cy="339.0" r="2.3"/><circle cx="285.4" cy="339.5" r="2.3"/><circle cx="287.9" cy="339.1" r="2.3"/><circle cx="290.3" cy="339.7" r="2.3"/><circle cx="292.4" cy="339.0" r="2.3"/><circle cx="294.8" cy="339.7" r="2.3"/><circle cx="248.3" cy="341.2" r="2.3"/><circle cx="250.9" cy="341.1" r="2.3"/><circle cx="253.1" cy="340.9" r="2.3"/><circle cx="254.7" cy="341.0" r="2.3"/><circle cx="257.2" cy="341.3" r="2.3"/><circle cx="260.1" cy="341.0" r="2.3"/><circle cx="262.8" cy="341.2" r="2.3"/><circle cx="264.4" cy="341.0" r="2.3"/><circle cx="267.4" cy="341.8" r="2.3"/><circle cx="269.3" cy="340.9" r="2.3"/><circle cx="272.3" cy="341.1" r="2.3"/><circle cx="274.9" cy="341.3" r="2.3"/><circle cx="276.9" cy="341.2" r="2.3"/><circle cx="279.5" cy="341.3" r="2.3"/><circle cx="281.4" cy="341.7" r="2.3"/><circle cx="283.6" cy="341.6" r="2.3"/><circle cx="286.0" cy="341.5" r="2.3"/><circle cx="288.7" cy="341.7" r="2.3"/><circle cx="290.8" cy="341.4" r="2.3"/><circle cx="293.5" cy="341.8" r="2.3"/><circle cx="246.5" cy="343.1" r="2.3"/><circle cx="249.5" cy="343.6" r="2.3"/><circle cx="251.4" cy="343.9" r="2.3"/><circle cx="253.7" cy="343.5" r="2.3"/><circle cx="256.1" cy="343.8" r="2.3"/><circle cx="259.2" cy="343.2" r="2.3"/><circle cx="261.5" cy="343.7" r="2.3"/><circle cx="263.4" cy="343.2" r="2.3"/><circle cx="266.0" cy="343.8" r="2.3"/><circle cx="268.1" cy="343.6" r="2.3"/><circle cx="270.9" cy="343.4" r="2.3"/><circle cx="273.3" cy="343.8" r="2.3"/><circle cx="275.3" cy="343.8" r="2.3"/><circle cx="277.9" cy="343.7" r="2.3"/><circle cx="280.8" cy="343.1" r="2.3"/><circle cx="283.2" cy="343.9" r="2.3"/><circle cx="285.0" cy="342.9" r="2.3"/><circle cx="287.2" cy="343.9" r="2.3"/><circle cx="289.5" cy="343.8" r="2.3"/><circle cx="292.1" cy="343.6" r="2.3"/><circle cx="294.4" cy="343.1" r="2.3"/><circle cx="243.4" cy="345.1" r="2.3"/><circle cx="245.4" cy="345.9" r="2.3"/><circle cx="248.2" cy="345.9" r="2.3"/><circle cx="250.9" cy="345.0" r="2.3"/><circle cx="252.5" cy="345.8" r="2.3"/><circle cx="255.4" cy="345.0" r="2.3"/><circle cx="257.6" cy="345.2" r="2.3"/><circle cx="259.9" cy="345.1" r="2.3"/><circle cx="261.9" cy="346.0" r="2.3"/><circle cx="264.6" cy="345.9" r="2.3"/><circle cx="266.8" cy="345.5" r="2.3"/><circle cx="269.2" cy="345.4" r="2.3"/><circle cx="271.7" cy="345.7" r="2.3"/><circle cx="274.0" cy="345.7" r="2.3"/><circle cx="276.8" cy="345.1" r="2.3"/><circle cx="279.1" cy="345.5" r="2.3"/><circle cx="282.0" cy="345.3" r="2.3"/><circle cx="283.7" cy="346.0" r="2.3"/><circle cx="286.8" cy="345.7" r="2.3"/><circle cx="288.6" cy="345.2" r="2.3"/><circle cx="291.0" cy="345.1" r="2.3"/><circle cx="293.1" cy="345.5" r="2.3"/><circle cx="252.0" cy="347.8" r="2.3"/><circle cx="253.9" cy="347.4" r="2.3"/><circle cx="256.3" cy="348.0" r="2.3"/><circle cx="258.7" cy="347.5" r="2.3"/><circle cx="261.1" cy="347.2" r="2.3"/><circle cx="264.1" cy="347.1" r="2.3"/><circle cx="266.1" cy="348.0" r="2.3"/><circle cx="268.2" cy="347.7" r="2.3"/><circle cx="270.7" cy="347.3" r="2.3"/><circle cx="272.9" cy="347.2" r="2.3"/><circle cx="275.9" cy="347.9" r="2.3"/><circle cx="278.4" cy="347.1" r="2.3"/><circle cx="280.6" cy="347.4" r="2.3"/><circle cx="282.9" cy="347.6" r="2.3"/><circle cx="285.0" cy="348.0" r="2.3"/><circle cx="287.1" cy="347.8" r="2.3"/><circle cx="290.4" cy="347.6" r="2.3"/><circle cx="292.5" cy="348.1" r="2.3"/><circle cx="294.5" cy="347.7" r="2.3"/><circle cx="254.9" cy="349.8" r="2.3"/><circle cx="257.4" cy="350.1" r="2.3"/><circle cx="260.0" cy="349.9" r="2.3"/><circle cx="262.4" cy="349.6" r="2.3"/><circle cx="264.5" cy="349.3" r="2.3"/><circle cx="267.6" cy="349.7" r="2.3"/><circle cx="269.6" cy="349.7" r="2.3"/><circle cx="272.3" cy="349.4" r="2.3"/><circle cx="274.1" cy="350.0" r="2.3"/><circle cx="276.8" cy="349.8" r="2.3"/><circle cx="279.5" cy="350.0" r="2.3"/><circle cx="282.0" cy="349.2" r="2.3"/><circle cx="283.9" cy="350.0" r="2.3"/><circle cx="286.7" cy="349.3" r="2.3"/><circle cx="288.5" cy="349.4" r="2.3"/><circle cx="290.8" cy="349.5" r="2.3"/><circle cx="293.9" cy="349.7" r="2.3"/><circle cx="256.3" cy="351.6" r="2.3"/><circle cx="258.7" cy="351.2" r="2.3"/><circle cx="260.9" cy="351.8" r="2.3"/><circle cx="263.2" cy="351.4" r="2.3"/><circle cx="266.2" cy="351.5" r="2.3"/><circle cx="268.2" cy="351.5" r="2.3"/><circle cx="271.1" cy="351.3" r="2.3"/><circle cx="273.3" cy="352.1" r="2.3"/><circle cx="275.3" cy="351.6" r="2.3"/><circle cx="278.3" cy="351.8" r="2.3"/><circle cx="280.3" cy="351.3" r="2.3"/><circle cx="282.7" cy="351.6" r="2.3"/><circle cx="285.4" cy="351.5" r="2.3"/><circle cx="287.5" cy="351.9" r="2.3"/><circle cx="290.3" cy="351.6" r="2.3"/><circle cx="292.3" cy="351.8" r="2.3"/><circle cx="295.2" cy="351.4" r="2.3"/><circle cx="257.1" cy="353.9" r="2.3"/><circle cx="260.0" cy="353.8" r="2.3"/><circle cx="262.7" cy="353.7" r="2.3"/><circle cx="264.8" cy="354.2" r="2.3"/><circle cx="267.1" cy="353.8" r="2.3"/><circle cx="269.6" cy="354.1" r="2.3"/><circle cx="272.2" cy="354.0" r="2.3"/><circle cx="274.3" cy="353.3" r="2.3"/><circle cx="277.0" cy="353.9" r="2.3"/><circle cx="279.5" cy="354.1" r="2.3"/><circle cx="281.2" cy="353.5" r="2.3"/><circle cx="283.6" cy="354.1" r="2.3"/><circle cx="286.0" cy="353.4" r="2.3"/><circle cx="289.1" cy="353.9" r="2.3"/><circle cx="290.8" cy="354.0" r="2.3"/><circle cx="293.8" cy="353.8" r="2.3"/><circle cx="295.6" cy="354.0" r="2.3"/><circle cx="261.2" cy="355.8" r="2.3"/><circle cx="263.2" cy="355.7" r="2.3"/><circle cx="266.4" cy="356.2" r="2.3"/><circle cx="268.8" cy="355.6" r="2.3"/><circle cx="270.5" cy="355.4" r="2.3"/><circle cx="273.2" cy="355.8" r="2.3"/><circle cx="275.6" cy="355.9" r="2.3"/><circle cx="278.1" cy="355.7" r="2.3"/><circle cx="280.7" cy="355.6" r="2.3"/><circle cx="283.2" cy="355.9" r="2.3"/><circle cx="284.8" cy="355.7" r="2.3"/><circle cx="287.6" cy="355.8" r="2.3"/><circle cx="290.1" cy="355.7" r="2.3"/><circle cx="292.2" cy="356.2" r="2.3"/><circle cx="294.6" cy="356.1" r="2.3"/><circle cx="262.7" cy="358.0" r="2.3"/><circle cx="265.0" cy="358.1" r="2.3"/><circle cx="267.0" cy="357.7" r="2.3"/><circle cx="269.9" cy="357.6" r="2.3"/><circle cx="272.4" cy="357.7" r="2.3"/><circle cx="274.0" cy="357.6" r="2.3"/><circle cx="277.1" cy="358.4" r="2.3"/><circle cx="279.1" cy="358.1" r="2.3"/><circle cx="281.4" cy="358.4" r="2.3"/><circle cx="284.2" cy="357.6" r="2.3"/><circle cx="286.0" cy="358.2" r="2.3"/><circle cx="288.3" cy="358.3" r="2.3"/><circle cx="291.0" cy="357.7" r="2.3"/><circle cx="293.7" cy="357.8" r="2.3"/><circle cx="266.4" cy="360.5" r="2.3"/><circle cx="268.8" cy="360.1" r="2.3"/><circle cx="270.6" cy="359.9" r="2.3"/><circle cx="273.5" cy="360.0" r="2.3"/><circle cx="276.0" cy="359.6" r="2.3"/><circle cx="278.0" cy="360.4" r="2.3"/><circle cx="280.5" cy="360.1" r="2.3"/><circle cx="282.4" cy="359.7" r="2.3"/><circle cx="285.0" cy="360.4" r="2.3"/><circle cx="287.9" cy="359.8" r="2.3"/><circle cx="290.4" cy="359.6" r="2.3"/><circle cx="292.5" cy="360.5" r="2.3"/><circle cx="294.6" cy="360.5" r="2.3"/><circle cx="269.5" cy="362.0" r="2.3"/><circle cx="272.2" cy="361.8" r="2.3"/><circle cx="274.1" cy="362.6" r="2.3"/><circle cx="276.6" cy="362.5" r="2.3"/><circle cx="279.6" cy="362.1" r="2.3"/><circle cx="281.2" cy="361.7" r="2.3"/><circle cx="284.4" cy="361.7" r="2.3"/><circle cx="286.4" cy="362.2" r="2.3"/><circle cx="288.4" cy="362.1" r="2.3"/><circle cx="290.9" cy="362.2" r="2.3"/><circle cx="273.4" cy="363.8" r="2.3"/><circle cx="275.3" cy="364.3" r="2.3"/><circle cx="278.5" cy="363.7" r="2.3"/><circle cx="280.5" cy="364.4" r="2.3"/><circle cx="283.1" cy="364.0" r="2.3"/><circle cx="285.5" cy="364.2" r="2.3"/><circle cx="288.0" cy="363.7" r="2.3"/><circle cx="281.9" cy="366.6" r="2.3"/><circle cx="284.1" cy="366.2" r="2.3"/><circle cx="286.7" cy="366.6" r="2.3"/><circle cx="282.7" cy="368.7" r="2.3"/><circle cx="285.3" cy="368.1" r="2.3"/><circle cx="287.2" cy="368.1" r="2.3"/><circle cx="283.6" cy="370.6" r="2.3"/><circle cx="286.3" cy="370.9" r="2.3"/><circle cx="285.0" cy="372.2" r="2.3"/>
</g>
<g fill="#0000ff">
<circle cx="312.5" cy="390.3" r="2.3"/><circle cx="293.0" cy="226.8" r="2.3"/><circle cx="296.0" cy="223.5" r="2.3"/><circle cx="290.5" cy="251.8" r="2.3"/><circle cx="296.0" cy="246.8" r="2.3"/><circle cx="296.0" cy="263.5" r="2.3"/><circle cx="290.5" cy="273.0" r="2.3"/><circle cx="293.3" cy="276.0" r="2.3"/><circle cx="293.3" cy="282.7" r="2.3"/><circle cx="282.7" cy="301.8" r="2.3"/><circle cx="275.2" cy="308.5" r="2.3"/><circle cx="301.0" cy="216.8" r="2.3"/><circle cx="304.7" cy="222.3" r="2.3"/><circle cx="326.8" cy="224.7" r="2.3"/><circle cx="301.0" cy="240.7" r="2.3"/><circle cx="301.0" cy="265.2" r="2.3"/><circle cx="312.3" cy="268.5" r="2.3"/><circle cx="316.3" cy="270.7" r="2.3"/><circle cx="409.3" cy="265.2" r="2.3"/><circle cx="304.3" cy="276.3" r="2.3"/><circle cx="301.0" cy="281.3" r="2.3"/><circle cx="297.3" cy="285.2" r="2.3"/><circle cx="304.3" cy="287.7" r="2.3"/><circle cx="338.5" cy="290.2" r="2.3"/><circle cx="364.3" cy="290.2" r="2.3"/><circle cx="356.3" cy="295.2" r="2.3"/><circle cx="342.3" cy="295.2" r="2.3"/><circle cx="346.0" cy="295.2" r="2.3"/><circle cx="338.5" cy="301.8" r="2.3"/><circle cx="342.3" cy="302.7" r="2.3"/><circle cx="346.0" cy="305.2" r="2.3"/><circle cx="352.7" cy="299.3" r="2.3"/><circle cx="349.3" cy="299.3" r="2.3"/><circle cx="356.3" cy="306.0" r="2.3"/><circle cx="334.7" cy="304.3" r="2.3"/><circle cx="330.7" cy="301.0" r="2.3"/><circle cx="334.7" cy="309.3" r="2.3"/><circle cx="394.3" cy="298.8" r="2.3"/><circle cx="397.7" cy="298.8" r="2.3"/><circle cx="394.3" cy="306.0" r="2.3"/><circle cx="364.3" cy="311.0" r="2.3"/><circle cx="368.0" cy="310.2" r="2.3"/><circle cx="330.7" cy="200.3" r="2.3"/><circle cx="308.5" cy="209.7" r="2.3"/><circle cx="301.0" cy="327.0" r="2.3"/><circle cx="308.5" cy="328.7" r="2.3"/><circle cx="312.3" cy="327.8" r="2.3"/><circle cx="304.7" cy="331.7" r="2.3"/><circle cx="321.0" cy="328.3" r="2.3"/><circle cx="323.0" cy="331.7" r="2.3"/><circle cx="326.8" cy="325.3" r="2.3"/><circle cx="326.8" cy="328.7" r="2.3"/><circle cx="321.0" cy="333.7" r="2.3"/><circle cx="323.0" cy="336.2" r="2.3"/><circle cx="330.7" cy="326.2" r="2.3"/><circle cx="334.7" cy="328.7" r="2.3"/><circle cx="338.5" cy="330.3" r="2.3"/><circle cx="342.3" cy="327.8" r="2.3"/><circle cx="342.3" cy="333.7" r="2.3"/><circle cx="346.0" cy="337.0" r="2.3"/><circle cx="312.3" cy="339.0" r="2.3"/><circle cx="316.3" cy="338.3" r="2.3"/><circle cx="321.0" cy="339.5" r="2.3"/><circle cx="316.3" cy="343.7" r="2.3"/><circle cx="323.0" cy="344.5" r="2.3"/><circle cx="326.8" cy="345.3" r="2.3"/><circle cx="330.7" cy="344.0" r="2.3"/><circle cx="297.3" cy="336.7" r="2.3"/><circle cx="297.3" cy="343.7" r="2.3"/><circle cx="297.3" cy="350.0" r="2.3"/><circle cx="338.5" cy="350.0" r="2.3"/><circle cx="330.7" cy="354.5" r="2.3"/><circle cx="326.8" cy="357.3" r="2.3"/><circle cx="338.5" cy="359.5" r="2.3"/><circle cx="304.7" cy="357.0" r="2.3"/><circle cx="304.7" cy="359.5" r="2.3"/><circle cx="304.7" cy="364.5" r="2.3"/><circle cx="346.0" cy="368.2" r="2.3"/><circle cx="312.3" cy="372.8" r="2.3"/><circle cx="297.3" cy="376.2" r="2.3"/><circle cx="349.3" cy="317.0" r="2.3"/><circle cx="356.3" cy="314.5" r="2.3"/><circle cx="371.8" cy="312.8" r="2.3"/><circle cx="379.3" cy="314.5" r="2.3"/><circle cx="371.8" cy="319.0" r="2.3"/><circle cx="364.3" cy="322.8" r="2.3"/><circle cx="364.3" cy="327.8" r="2.3"/><circle cx="349.3" cy="324.5" r="2.3"/><circle cx="356.3" cy="328.7" r="2.3"/><circle cx="352.7" cy="334.5" r="2.3"/><circle cx="356.3" cy="334.0" r="2.3"/><circle cx="379.3" cy="328.7" r="2.3"/><circle cx="386.5" cy="325.7" r="2.3"/><circle cx="397.7" cy="318.3" r="2.3"/><circle cx="360.2" cy="342.0" r="2.3"/><circle cx="352.7" cy="348.7" r="2.3"/><circle cx="360.2" cy="351.5" r="2.3"/><circle cx="364.3" cy="354.5" r="2.3"/><circle cx="360.2" cy="356.7" r="2.3"/><circle cx="352.7" cy="358.3" r="2.3"/><circle cx="360.2" cy="361.2" r="2.3"/><circle cx="360.2" cy="363.3" r="2.3"/><circle cx="368.0" cy="361.2" r="2.3"/><circle cx="371.8" cy="355.7" r="2.3"/><circle cx="375.7" cy="357.3" r="2.3"/><circle cx="379.3" cy="356.5" r="2.3"/><circle cx="397.7" cy="369.2" r="2.3"/><circle cx="401.8" cy="366.7" r="2.3"/><circle cx="390.2" cy="378.7" r="2.3"/><circle cx="416.0" cy="359.5" r="2.3"/><circle cx="423.5" cy="370.0" r="2.3"/><circle cx="334.7" cy="314.5" r="2.3"/><circle cx="338.5" cy="315.3" r="2.3"/><circle cx="336.8" cy="319.5" r="2.3"/><circle cx="341.0" cy="318.7" r="2.3"/><circle cx="340.2" cy="321.7" r="2.3"/><circle cx="334.3" cy="321.2" r="2.3"/><circle cx="331.8" cy="323.7" r="2.3"/><circle cx="291.2" cy="330.2" r="2.3"/><circle cx="290.4" cy="346.0" r="2.3"/><circle cx="286.2" cy="357.5" r="2.3"/><circle cx="290.4" cy="365.2" r="2.3"/><circle cx="292.9" cy="381.8" r="2.3"/><circle cx="342.1" cy="325.9" r="2.3"/><circle cx="346.5" cy="335.2" r="2.3"/><circle cx="338.4" cy="321.5" r="2.3"/><circle cx="293.4" cy="329.0" r="2.3"/><circle cx="282.8" cy="315.2" r="2.3"/><circle cx="435.3" cy="338.3" r="2.3"/><circle cx="431.5" cy="367.0" r="2.3"/><circle cx="427.7" cy="376.7" r="2.3"/><circle cx="326.8" cy="245.9" r="2.3"/><circle cx="322.9" cy="270.2" r="2.3"/><circle cx="338.2" cy="277.8" r="2.3"/><circle cx="322.9" cy="284.2" r="2.3"/><circle cx="330.4" cy="285.8" r="2.3"/><circle cx="334.6" cy="286.9" r="2.3"/><circle cx="349.7" cy="287.9" r="2.3"/><circle cx="368.1" cy="264.2" r="2.3"/><circle cx="375.9" cy="273.8" r="2.3"/><circle cx="338.2" cy="249.9" r="2.3"/><circle cx="356.5" cy="266.5" r="2.3"/><circle cx="360.1" cy="256.1" r="2.3"/><circle cx="386.4" cy="282.7" r="2.3"/><circle cx="394.1" cy="310.6" r="2.3"/><circle cx="379.6" cy="331.0" r="2.3"/><circle cx="342.5" cy="299.0" r="2.3"/><circle cx="368.1" cy="304.5" r="2.3"/><circle cx="371.9" cy="293.5" r="2.3"/><circle cx="292.4" cy="289.7" r="2.3"/><circle cx="294.8" cy="289.4" r="2.3"/><circle cx="290.9" cy="290.8" r="2.3"/><circle cx="293.6" cy="291.6" r="2.3"/><circle cx="295.7" cy="291.0" r="2.3"/><circle cx="300.9" cy="291.8" r="2.3"/><circle cx="290.0" cy="293.3" r="2.3"/><circle cx="292.3" cy="293.4" r="2.3"/><circle cx="294.4" cy="293.7" r="2.3"/><circle cx="297.6" cy="293.7" r="2.3"/><circle cx="300.0" cy="293.2" r="2.3"/><circle cx="302.4" cy="292.9" r="2.3"/><circle cx="323.2" cy="293.1" r="2.3"/><circle cx="326.0" cy="293.6" r="2.3"/><circle cx="328.8" cy="293.6" r="2.3"/><circle cx="331.1" cy="293.8" r="2.3"/><circle cx="291.6" cy="295.2" r="2.3"/><circle cx="293.0" cy="295.1" r="2.3"/><circle cx="295.8" cy="295.8" r="2.3"/><circle cx="298.6" cy="295.4" r="2.3"/><circle cx="300.3" cy="295.0" r="2.3"/><circle cx="302.8" cy="295.7" r="2.3"/><circle cx="325.2" cy="295.4" r="2.3"/><circle cx="327.3" cy="295.3" r="2.3"/><circle cx="329.8" cy="295.8" r="2.3"/><circle cx="331.5" cy="295.0" r="2.3"/><circle cx="334.0" cy="295.5" r="2.3"/><circle cx="292.4" cy="297.9" r="2.3"/><circle cx="294.7" cy="297.7" r="2.3"/><circle cx="296.8" cy="297.3" r="2.3"/><circle cx="299.9" cy="297.4" r="2.3"/><circle cx="301.5" cy="297.6" r="2.3"/><circle cx="303.9" cy="297.2" r="2.3"/><circle cx="323.7" cy="297.5" r="2.3"/><circle cx="325.5" cy="297.9" r="2.3"/><circle cx="328.4" cy="297.1" r="2.3"/><circle cx="330.4" cy="298.0" r="2.3"/><circle cx="332.8" cy="297.4" r="2.3"/><circle cx="286.8" cy="299.9" r="2.3"/><circle cx="288.2" cy="299.1" r="2.3"/><circle cx="290.8" cy="300.0" r="2.3"/><circle cx="293.2" cy="299.8" r="2.3"/><circle cx="296.3" cy="299.7" r="2.3"/><circle cx="298.7" cy="299.4" r="2.3"/><circle cx="300.4" cy="299.1" r="2.3"/><circle cx="303.4" cy="299.2" r="2.3"/><circle cx="324.8" cy="299.9" r="2.3"/><circle cx="326.7" cy="299.1" r="2.3"/><circle cx="329.5" cy="299.4" r="2.3"/><circle cx="331.8" cy="299.1" r="2.3"/><circle cx="285.3" cy="301.4" r="2.3"/><circle cx="287.4" cy="301.3" r="2.3"/><circle cx="290.4" cy="301.7" r="2.3"/><circle cx="292.2" cy="301.3" r="2.3"/><circle cx="294.9" cy="302.0" r="2.3"/><circle cx="297.4" cy="301.3" r="2.3"/><circle cx="299.4" cy="301.5" r="2.3"/><circle cx="302.2" cy="301.3" r="2.3"/><circle cx="323.9" cy="302.0" r="2.3"/><circle cx="326.1" cy="301.2" r="2.3"/><circle cx="328.5" cy="302.0" r="2.3"/><circle cx="283.7" cy="303.6" r="2.3"/><circle cx="285.9" cy="303.7" r="2.3"/><circle cx="289.2" cy="303.9" r="2.3"/><circle cx="291.5" cy="304.0" r="2.3"/><circle cx="293.8" cy="304.2" r="2.3"/><circle cx="296.2" cy="303.5" r="2.3"/><circle cx="298.0" cy="303.7" r="2.3"/><circle cx="300.2" cy="303.5" r="2.3"/><circle cx="303.5" cy="304.2" r="2.3"/><circle cx="324.7" cy="304.2" r="2.3"/><circle cx="327.0" cy="304.2" r="2.3"/><circle cx="282.9" cy="306.3" r="2.3"/><circle cx="284.8" cy="305.8" r="2.3"/><circle cx="287.7" cy="306.0" r="2.3"/><circle cx="290.1" cy="306.1" r="2.3"/><circle cx="292.0" cy="305.6" r="2.3"/><circle cx="294.2" cy="306.0" r="2.3"/><circle cx="296.8" cy="305.6" r="2.3"/><circle cx="300.0" cy="306.0" r="2.3"/><circle cx="302.0" cy="306.0" r="2.3"/><circle cx="304.4" cy="306.0" r="2.3"/><circle cx="306.5" cy="305.4" r="2.3"/><circle cx="308.7" cy="305.3" r="2.3"/><circle cx="311.4" cy="305.5" r="2.3"/><circle cx="313.5" cy="305.8" r="2.3"/><circle cx="316.8" cy="306.0" r="2.3"/><circle cx="318.5" cy="306.1" r="2.3"/><circle cx="320.8" cy="305.4" r="2.3"/><circle cx="323.3" cy="305.7" r="2.3"/><circle cx="326.1" cy="305.8" r="2.3"/><circle cx="328.5" cy="305.4" r="2.3"/><circle cx="284.1" cy="307.7" r="2.3"/><circle cx="285.8" cy="307.6" r="2.3"/><circle cx="289.1" cy="307.6" r="2.3"/><circle cx="291.3" cy="308.0" r="2.3"/><circle cx="293.7" cy="307.6" r="2.3"/><circle cx="295.5" cy="307.5" r="2.3"/><circle cx="298.8" cy="307.8" r="2.3"/><circle cx="300.9" cy="308.0" r="2.3"/><circle cx="302.8" cy="307.5" r="2.3"/><circle cx="305.0" cy="308.3" r="2.3"/><circle cx="307.5" cy="308.4" r="2.3"/><circle cx="310.2" cy="308.1" r="2.3"/><circle cx="312.3" cy="308.2" r="2.3"/><circle cx="314.9" cy="307.8" r="2.3"/><circle cx="317.5" cy="307.5" r="2.3"/><circle cx="319.6" cy="308.2" r="2.3"/><circle cx="326.8" cy="307.6" r="2.3"/><circle cx="329.4" cy="307.8" r="2.3"/><circle cx="285.0" cy="309.6" r="2.3"/><circle cx="287.5" cy="310.2" r="2.3"/><circle cx="289.5" cy="309.6" r="2.3"/><circle cx="292.3" cy="309.7" r="2.3"/><circle cx="294.4" cy="309.9" r="2.3"/><circle cx="296.7" cy="309.6" r="2.3"/><circle cx="299.4" cy="310.0" r="2.3"/><circle cx="302.3" cy="310.0" r="2.3"/><circle cx="303.9" cy="309.7" r="2.3"/><circle cx="306.9" cy="310.1" r="2.3"/><circle cx="309.5" cy="310.4" r="2.3"/><circle cx="311.9" cy="309.6" r="2.3"/><circle cx="314.3" cy="310.0" r="2.3"/><circle cx="316.0" cy="309.7" r="2.3"/><circle cx="319.1" cy="309.7" r="2.3"/><circle cx="328.3" cy="309.8" r="2.3"/><circle cx="330.4" cy="310.2" r="2.3"/><circle cx="284.1" cy="312.1" r="2.3"/><circle cx="285.8" cy="312.0" r="2.3"/><circle cx="288.9" cy="312.1" r="2.3"/><circle cx="290.8" cy="312.1" r="2.3"/><circle cx="293.6" cy="312.2" r="2.3"/><circle cx="295.5" cy="312.4" r="2.3"/><circle cx="298.7" cy="312.3" r="2.3"/><circle cx="301.1" cy="311.9" r="2.3"/><circle cx="303.5" cy="311.7" r="2.3"/><circle cx="305.2" cy="312.2" r="2.3"/><circle cx="308.3" cy="311.6" r="2.3"/><circle cx="310.0" cy="311.6" r="2.3"/><circle cx="312.6" cy="311.7" r="2.3"/><circle cx="314.8" cy="312.3" r="2.3"/><circle cx="317.6" cy="312.5" r="2.3"/><circle cx="319.8" cy="312.2" r="2.3"/><circle cx="321.8" cy="312.5" r="2.3"/><circle cx="327.1" cy="312.5" r="2.3"/><circle cx="329.5" cy="312.6" r="2.3"/><circle cx="332.0" cy="311.8" r="2.3"/><circle cx="334.6" cy="311.8" r="2.3"/><circle cx="284.9" cy="314.1" r="2.3"/><circle cx="287.3" cy="314.3" r="2.3"/><circle cx="289.4" cy="314.0" r="2.3"/><circle cx="292.0" cy="314.5" r="2.3"/><circle cx="294.2" cy="314.3" r="2.3"/><circle cx="296.9" cy="314.1" r="2.3"/><circle cx="299.6" cy="314.4" r="2.3"/><circle cx="301.5" cy="313.9" r="2.3"/><circle cx="303.9" cy="314.6" r="2.3"/><circle cx="306.3" cy="313.8" r="2.3"/><circle cx="309.1" cy="314.2" r="2.3"/><circle cx="311.9" cy="313.7" r="2.3"/><circle cx="313.6" cy="313.8" r="2.3"/><circle cx="316.4" cy="314.1" r="2.3"/><circle cx="318.6" cy="314.5" r="2.3"/><circle cx="321.3" cy="314.5" r="2.3"/><circle cx="324.0" cy="313.9" r="2.3"/><circle cx="326.3" cy="314.1" r="2.3"/><circle cx="327.9" cy="314.6" r="2.3"/><circle cx="330.3" cy="313.7" r="2.3"/><circle cx="332.9" cy="313.9" r="2.3"/><circle cx="336.0" cy="314.5" r="2.3"/><circle cx="291.3" cy="316.3" r="2.3"/><circle cx="293.8" cy="316.6" r="2.3"/><circle cx="296.4" cy="315.9" r="2.3"/><circle cx="297.9" cy="316.6" r="2.3"/><circle cx="300.8" cy="315.9" r="2.3"/><circle cx="303.3" cy="316.0" r="2.3"/><circle cx="305.2" cy="316.1" r="2.3"/><circle cx="307.9" cy="316.4" r="2.3"/><circle cx="309.9" cy="316.5" r="2.3"/><circle cx="315.3" cy="316.5" r="2.3"/><circle cx="317.0" cy="316.2" r="2.3"/><circle cx="322.4" cy="315.9" r="2.3"/><circle cx="330.0" cy="315.9" r="2.3"/><circle cx="331.8" cy="316.7" r="2.3"/><circle cx="334.7" cy="316.0" r="2.3"/><circle cx="292.2" cy="318.2" r="2.3"/><circle cx="294.3" cy="318.4" r="2.3"/><circle cx="297.5" cy="318.4" r="2.3"/><circle cx="299.4" cy="318.5" r="2.3"/><circle cx="301.8" cy="318.0" r="2.3"/><circle cx="304.3" cy="317.8" r="2.3"/><circle cx="306.9" cy="318.0" r="2.3"/><circle cx="309.0" cy="318.8" r="2.3"/><circle cx="323.8" cy="318.4" r="2.3"/><circle cx="330.2" cy="318.3" r="2.3"/><circle cx="333.3" cy="318.1" r="2.3"/><circle cx="290.7" cy="320.8" r="2.3"/><circle cx="294.0" cy="320.0" r="2.3"/><circle cx="295.7" cy="320.4" r="2.3"/><circle cx="298.1" cy="320.3" r="2.3"/><circle cx="300.7" cy="320.1" r="2.3"/><circle cx="302.7" cy="320.0" r="2.3"/><circle cx="305.2" cy="320.0" r="2.3"/><circle cx="308.0" cy="320.6" r="2.3"/><circle cx="310.1" cy="320.7" r="2.3"/><circle cx="315.1" cy="320.1" r="2.3"/><circle cx="322.5" cy="320.3" r="2.3"/><circle cx="324.9" cy="320.1" r="2.3"/><circle cx="327.4" cy="320.7" r="2.3"/><circle cx="329.1" cy="320.5" r="2.3"/><circle cx="331.6" cy="320.6" r="2.3"/><circle cx="294.7" cy="322.7" r="2.3"/><circle cx="296.6" cy="322.7" r="2.3"/><circle cx="299.2" cy="322.2" r="2.3"/><circle cx="302.0" cy="322.6" r="2.3"/><circle cx="304.4" cy="322.9" r="2.3"/><circle cx="306.4" cy="322.3" r="2.3"/><circle cx="309.3" cy="322.2" r="2.3"/><circle cx="311.2" cy="322.2" r="2.3"/><circle cx="314.2" cy="322.8" r="2.3"/><circle cx="316.5" cy="322.9" r="2.3"/><circle cx="319.0" cy="322.3" r="2.3"/><circle cx="320.9" cy="322.7" r="2.3"/><circle cx="328.3" cy="322.1" r="2.3"/><circle cx="305.6" cy="324.1" r="2.3"/><circle cx="307.9" cy="324.7" r="2.3"/><circle cx="310.1" cy="324.1" r="2.3"/><circle cx="313.2" cy="324.9" r="2.3"/><circle cx="314.7" cy="324.5" r="2.3"/><circle cx="317.6" cy="324.3" r="2.3"/><circle cx="319.5" cy="324.8" r="2.3"/><circle cx="311.1" cy="326.9" r="2.3"/><circle cx="313.7" cy="326.4" r="2.3"/><circle cx="316.1" cy="326.6" r="2.3"/><circle cx="319.2" cy="326.3" r="2.3"/><circle cx="321.5" cy="326.4" r="2.3"/><circle cx="323.2" cy="326.9" r="2.3"/><circle cx="317.8" cy="328.5" r="2.3"/>
</g>
<g fill="#ffa500">
<circle cx="405.5" cy="221.3" r="2.3"/><circle cx="409.3" cy="234.3" r="2.3"/><circle cx="405.5" cy="236.8" r="2.3"/><circle cx="401.8" cy="238.5" r="2.3"/><circle cx="416.0" cy="238.5" r="2.3"/><circle cx="405.5" cy="240.7" r="2.3"/><circle cx="416.0" cy="242.7" r="2.3"/><circle cx="416.0" cy="245.2" r="2.3"/><circle cx="412.7" cy="249.0" r="2.3"/><circle cx="409.3" cy="253.5" r="2.3"/><circle cx="401.8" cy="253.5" r="2.3"/><circle cx="401.8" cy="259.7" r="2.3"/><circle cx="409.3" cy="260.2" r="2.3"/><circle cx="412.7" cy="260.2" r="2.3"/><circle cx="401.8" cy="266.8" r="2.3"/><circle cx="375.7" cy="289.3" r="2.3"/><circle cx="386.5" cy="288.5" r="2.3"/><circle cx="405.5" cy="286.0" r="2.3"/><circle cx="405.5" cy="289.3" r="2.3"/><circle cx="416.0" cy="286.3" r="2.3"/><circle cx="401.8" cy="294.0" r="2.3"/><circle cx="379.3" cy="294.0" r="2.3"/><circle cx="375.7" cy="294.3" r="2.3"/><circle cx="371.8" cy="294.3" r="2.3"/><circle cx="371.8" cy="297.7" r="2.3"/><circle cx="390.2" cy="299.3" r="2.3"/><circle cx="368.0" cy="304.0" r="2.3"/><circle cx="371.8" cy="307.3" r="2.3"/><circle cx="390.2" cy="306.8" r="2.3"/><circle cx="397.7" cy="307.3" r="2.3"/><circle cx="409.3" cy="306.8" r="2.3"/><circle cx="419.7" cy="274.7" r="2.3"/><circle cx="423.5" cy="266.0" r="2.3"/><circle cx="349.3" cy="294.0" r="2.3"/><circle cx="360.2" cy="297.2" r="2.3"/><circle cx="364.3" cy="294.7" r="2.3"/><circle cx="342.3" cy="298.8" r="2.3"/><circle cx="346.0" cy="138.7" r="2.3"/><circle cx="364.3" cy="135.8" r="2.3"/><circle cx="368.0" cy="140.5" r="2.3"/><circle cx="342.2" cy="184.7" r="2.3"/><circle cx="368.0" cy="196.3" r="2.3"/><circle cx="375.7" cy="201.2" r="2.3"/><circle cx="405.5" cy="315.3" r="2.3"/><circle cx="412.2" cy="317.0" r="2.3"/><circle cx="405.5" cy="321.2" r="2.3"/><circle cx="416.0" cy="327.8" r="2.3"/><circle cx="423.5" cy="312.8" r="2.3"/><circle cx="505.3" cy="241.3" r="2.3"/><circle cx="427.7" cy="249.0" r="2.3"/><circle cx="449.8" cy="244.0" r="2.3"/><circle cx="449.8" cy="247.7" r="2.3"/><circle cx="453.7" cy="251.0" r="2.3"/><circle cx="453.7" cy="253.0" r="2.3"/><circle cx="453.7" cy="255.7" r="2.3"/><circle cx="446.0" cy="252.7" r="2.3"/><circle cx="446.0" cy="257.7" r="2.3"/><circle cx="449.8" cy="259.0" r="2.3"/><circle cx="453.7" cy="262.3" r="2.3"/><circle cx="442.0" cy="267.3" r="2.3"/><circle cx="491.0" cy="264.3" r="2.3"/><circle cx="449.8" cy="274.8" r="2.3"/><circle cx="457.3" cy="284.3" r="2.3"/><circle cx="475.7" cy="293.2" r="2.3"/><circle cx="449.8" cy="296.3" r="2.3"/><circle cx="427.7" cy="302.7" r="2.3"/><circle cx="427.7" cy="306.0" r="2.3"/><circle cx="465.2" cy="314.5" r="2.3"/><circle cx="483.2" cy="315.3" r="2.3"/><circle cx="531.2" cy="313.7" r="2.3"/><circle cx="449.8" cy="322.0" r="2.3"/><circle cx="453.7" cy="336.7" r="2.3"/><circle cx="469.0" cy="335.3" r="2.3"/><circle cx="469.0" cy="339.5" r="2.3"/><circle cx="469.0" cy="341.7" r="2.3"/><circle cx="471.8" cy="345.0" r="2.3"/><circle cx="468.7" cy="346.2" r="2.3"/><circle cx="487.0" cy="350.8" r="2.3"/><circle cx="528.5" cy="350.8" r="2.3"/><circle cx="453.7" cy="370.8" r="2.3"/><circle cx="576.5" cy="255.7" r="2.3"/><circle cx="580.3" cy="256.8" r="2.3"/><circle cx="584.5" cy="255.7" r="2.3"/><circle cx="587.8" cy="347.0" r="2.3"/><circle cx="610.0" cy="346.2" r="2.3"/><circle cx="326.8" cy="252.0" r="2.3"/><circle cx="330.4" cy="252.5" r="2.3"/><circle cx="334.3" cy="241.5" r="2.3"/><circle cx="334.3" cy="244.1" r="2.3"/><circle cx="334.3" cy="250.4" r="2.3"/><circle cx="334.3" cy="253.0" r="2.3"/><circle cx="334.3" cy="261.3" r="2.3"/><circle cx="334.3" cy="273.0" r="2.3"/><circle cx="338.0" cy="251.4" r="2.3"/><circle cx="338.0" cy="253.5" r="2.3"/><circle cx="338.0" cy="259.2" r="2.3"/><circle cx="338.0" cy="261.3" r="2.3"/><circle cx="338.0" cy="263.9" r="2.3"/><circle cx="341.8" cy="238.9" r="2.3"/><circle cx="341.8" cy="241.5" r="2.3"/><circle cx="341.8" cy="244.7" r="2.3"/><circle cx="341.8" cy="247.3" r="2.3"/><circle cx="341.8" cy="251.4" r="2.3"/><circle cx="341.8" cy="253.5" r="2.3"/><circle cx="341.8" cy="266.5" r="2.3"/><circle cx="341.8" cy="272.8" r="2.3"/><circle cx="341.8" cy="276.4" r="2.3"/><circle cx="345.5" cy="241.5" r="2.3"/><circle cx="345.5" cy="244.7" r="2.3"/><circle cx="345.5" cy="247.8" r="2.3"/><circle cx="345.5" cy="250.4" r="2.3"/><circle cx="345.5" cy="253.0" r="2.3"/><circle cx="345.5" cy="255.6" r="2.3"/><circle cx="345.5" cy="262.4" r="2.3"/><circle cx="345.5" cy="281.6" r="2.3"/><circle cx="349.2" cy="243.6" r="2.3"/><circle cx="349.2" cy="247.3" r="2.3"/><circle cx="349.2" cy="249.4" r="2.3"/><circle cx="349.2" cy="253.0" r="2.3"/><circle cx="349.2" cy="255.6" r="2.3"/><circle cx="349.2" cy="258.7" r="2.3"/><circle cx="349.2" cy="261.3" r="2.3"/><circle cx="349.2" cy="267.1" r="2.3"/><circle cx="349.2" cy="272.3" r="2.3"/><circle cx="349.2" cy="283.7" r="2.3"/><circle cx="352.9" cy="240.5" r="2.3"/><circle cx="352.9" cy="243.6" r="2.3"/><circle cx="352.9" cy="246.2" r="2.3"/><circle cx="352.9" cy="248.8" r="2.3"/><circle cx="352.9" cy="252.5" r="2.3"/><circle cx="352.9" cy="263.4" r="2.3"/><circle cx="352.9" cy="273.8" r="2.3"/><circle cx="352.9" cy="279.6" r="2.3"/><circle cx="356.7" cy="246.8" r="2.3"/><circle cx="356.7" cy="248.8" r="2.3"/><circle cx="356.7" cy="255.6" r="2.3"/><circle cx="356.7" cy="258.2" r="2.3"/><circle cx="356.7" cy="261.3" r="2.3"/><circle cx="356.7" cy="267.6" r="2.3"/><circle cx="356.7" cy="273.3" r="2.3"/><circle cx="356.7" cy="285.3" r="2.3"/><circle cx="360.4" cy="245.2" r="2.3"/><circle cx="360.4" cy="248.3" r="2.3"/><circle cx="360.4" cy="255.6" r="2.3"/><circle cx="360.4" cy="257.7" r="2.3"/><circle cx="360.4" cy="261.9" r="2.3"/><circle cx="360.4" cy="269.1" r="2.3"/><circle cx="360.4" cy="281.6" r="2.3"/><circle cx="360.4" cy="286.3" r="2.3"/><circle cx="364.1" cy="237.6" r="2.3"/><circle cx="364.1" cy="244.1" r="2.3"/><circle cx="364.1" cy="247.3" r="2.3"/><circle cx="364.1" cy="250.4" r="2.3"/><circle cx="364.1" cy="263.9" r="2.3"/><circle cx="364.1" cy="267.6" r="2.3"/><circle cx="367.8" cy="253.5" r="2.3"/><circle cx="367.8" cy="257.7" r="2.3"/><circle cx="367.8" cy="269.7" r="2.3"/><circle cx="367.8" cy="272.8" r="2.3"/><circle cx="367.8" cy="280.6" r="2.3"/><circle cx="371.6" cy="254.6" r="2.3"/><circle cx="371.6" cy="271.8" r="2.3"/><circle cx="371.6" cy="274.9" r="2.3"/><circle cx="375.2" cy="254.6" r="2.3"/><circle cx="375.2" cy="267.1" r="2.3"/><circle cx="375.2" cy="285.3" r="2.3"/><circle cx="379.0" cy="254.6" r="2.3"/><circle cx="379.0" cy="271.8" r="2.3"/><circle cx="382.7" cy="249.9" r="2.3"/><circle cx="382.7" cy="256.1" r="2.3"/><circle cx="382.7" cy="268.1" r="2.3"/><circle cx="382.7" cy="270.7" r="2.3"/><circle cx="382.7" cy="273.8" r="2.3"/><circle cx="382.7" cy="283.2" r="2.3"/><circle cx="386.4" cy="243.6" r="2.3"/><circle cx="386.4" cy="245.7" r="2.3"/><circle cx="386.4" cy="253.0" r="2.3"/><circle cx="386.4" cy="263.4" r="2.3"/><circle cx="386.4" cy="270.2" r="2.3"/><circle cx="386.4" cy="281.1" r="2.3"/><circle cx="390.1" cy="234.8" r="2.3"/><circle cx="390.1" cy="242.6" r="2.3"/><circle cx="390.1" cy="244.7" r="2.3"/><circle cx="390.1" cy="270.7" r="2.3"/><circle cx="390.1" cy="275.9" r="2.3"/><circle cx="393.9" cy="241.0" r="2.3"/><circle cx="393.9" cy="248.3" r="2.3"/><circle cx="393.9" cy="254.0" r="2.3"/><circle cx="393.9" cy="257.2" r="2.3"/><circle cx="393.9" cy="281.6" r="2.3"/><circle cx="397.6" cy="247.3" r="2.3"/><circle cx="397.6" cy="268.1" r="2.3"/><circle cx="397.6" cy="272.3" r="2.3"/><circle cx="397.6" cy="281.6" r="2.3"/>
</g>
<rect x="200.8" y="378.2" width="16.2" height="31.5" fill="#bfbf00"/>
<rect x="228.3" y="350.9" width="16.5" height="32.1" fill="#bfbf00"/>
<rect x="263.9" y="309" width="16.5" height="32" fill="#bfbf00"/>
<rect x="305.2" y="272.7" width="16.3" height="31.3" fill="#bfbf00"/>
<rect x="364.8" y="220.7" width="16.2" height="31.1" fill="#bfbf00"/>
</g>
<rect x="96.5" y="57.9" width="595.1" height="460.6" fill="none" stroke="#000" stroke-width="1.333"/>
<path d="M96.40 518.5v-5.33M96.40 57.9v5.33M170.80 518.5v-5.33M170.80 57.9v5.33M245.20 518.5v-5.33M245.20 57.9v5.33M319.60 518.5v-5.33M319.60 57.9v5.33M394.00 518.5v-5.33M394.00 57.9v5.33M468.40 518.5v-5.33M468.40 57.9v5.33M542.80 518.5v-5.33M542.80 57.9v5.33M617.20 518.5v-5.33M617.20 57.9v5.33M691.60 518.5v-5.33M691.60 57.9v5.33M96.5 518.50h5.33M691.6 518.50h-5.33M96.5 441.70h5.33M691.6 441.70h-5.33M96.5 364.90h5.33M691.6 364.90h-5.33M96.5 288.10h5.33M691.6 288.10h-5.33M96.5 211.30h5.33M691.6 211.30h-5.33M96.5 134.50h5.33M691.6 134.50h-5.33M96.5 57.70h5.33M691.6 57.70h-5.33" stroke="#000" stroke-width="0.667" fill="none"/>
<text class="t16" x="96.40" y="537.4" text-anchor="middle">−20</text>
<text class="t16" x="170.80" y="537.4" text-anchor="middle">0</text>
<text class="t16" x="245.20" y="537.4" text-anchor="middle">20</text>
<text class="t16" x="319.60" y="537.4" text-anchor="middle">40</text>
<text class="t16" x="394.00" y="537.4" text-anchor="middle">60</text>
<text class="t16" x="468.40" y="537.4" text-anchor="middle">80</text>
<text class="t16" x="542.80" y="537.4" text-anchor="middle">100</text>
<text class="t16" x="617.20" y="537.4" text-anchor="middle">120</text>
<text class="t16" x="691.60" y="537.4" text-anchor="middle">140</text>
<text class="t16" x="90.6" y="522.90" text-anchor="end">−1</text>
<text class="t16" x="90.6" y="446.10" text-anchor="end">0</text>
<text class="t16" x="90.6" y="369.30" text-anchor="end">1</text>
<text class="t16" x="90.6" y="292.50" text-anchor="end">2</text>
<text class="t16" x="90.6" y="215.70" text-anchor="end">3</text>
<text class="t16" x="90.6" y="138.90" text-anchor="end">4</text>
<text class="t16" x="90.6" y="62.10" text-anchor="end">5</text>
<text class="t19" x="393.4" y="51.0" text-anchor="middle">Fuel Efficiency vs Speed</text>
<text class="t16" x="393.3" y="561.1" text-anchor="middle">Speed</text>
<text class="t16" transform="translate(55.8,289.3) rotate(-90)" text-anchor="middle">Fuel Efficiency</text>
<rect x="443.0" y="67.5" width="239.10000000000002" height="145.0" fill="#fff" stroke="#000" stroke-width="1.333"/>
<g fill="#ff0000"><circle cx="456.3" cy="84.30" r="2.2"/><circle cx="469.5" cy="82.60" r="2.2"/><circle cx="483.2" cy="85.20" r="2.2"/></g>
<text class="t19" x="510.4" y="89.30">Gear 1</text>
<text class="t19" x="605.7" y="89.30">8 - 12</text>
<g fill="#008000"><circle cx="456.3" cy="112.20" r="2.2"/><circle cx="469.5" cy="110.50" r="2.2"/><circle cx="483.2" cy="113.10" r="2.2"/></g>
<text class="t19" x="510.4" y="117.20">Gear 2</text>
<text class="t19" x="605.7" y="117.20">15 - 19</text>
<g fill="#808080"><circle cx="456.3" cy="140.10" r="2.2"/><circle cx="469.5" cy="138.40" r="2.2"/><circle cx="483.2" cy="141.00" r="2.2"/></g>
<text class="t19" x="510.4" y="145.10">Gear 3</text>
<text class="t19" x="605.7" y="145.10">25 - 29</text>
<g fill="#0000ff"><circle cx="456.3" cy="168.00" r="2.2"/><circle cx="469.5" cy="166.30" r="2.2"/><circle cx="483.2" cy="168.90" r="2.2"/></g>
<text class="t19" x="510.4" y="173.00">Gear 4</text>
<text class="t19" x="605.7" y="173.00">36 - 40</text>
<g fill="#ffa500"><circle cx="456.3" cy="195.90" r="2.2"/><circle cx="469.5" cy="194.20" r="2.2"/><circle cx="483.2" cy="196.80" r="2.2"/></g>
<text class="t19" x="510.4" y="200.90">Gear 5</text>
<text class="t19" x="605.7" y="200.90">52 - 56</text>
</svg></body></html>
